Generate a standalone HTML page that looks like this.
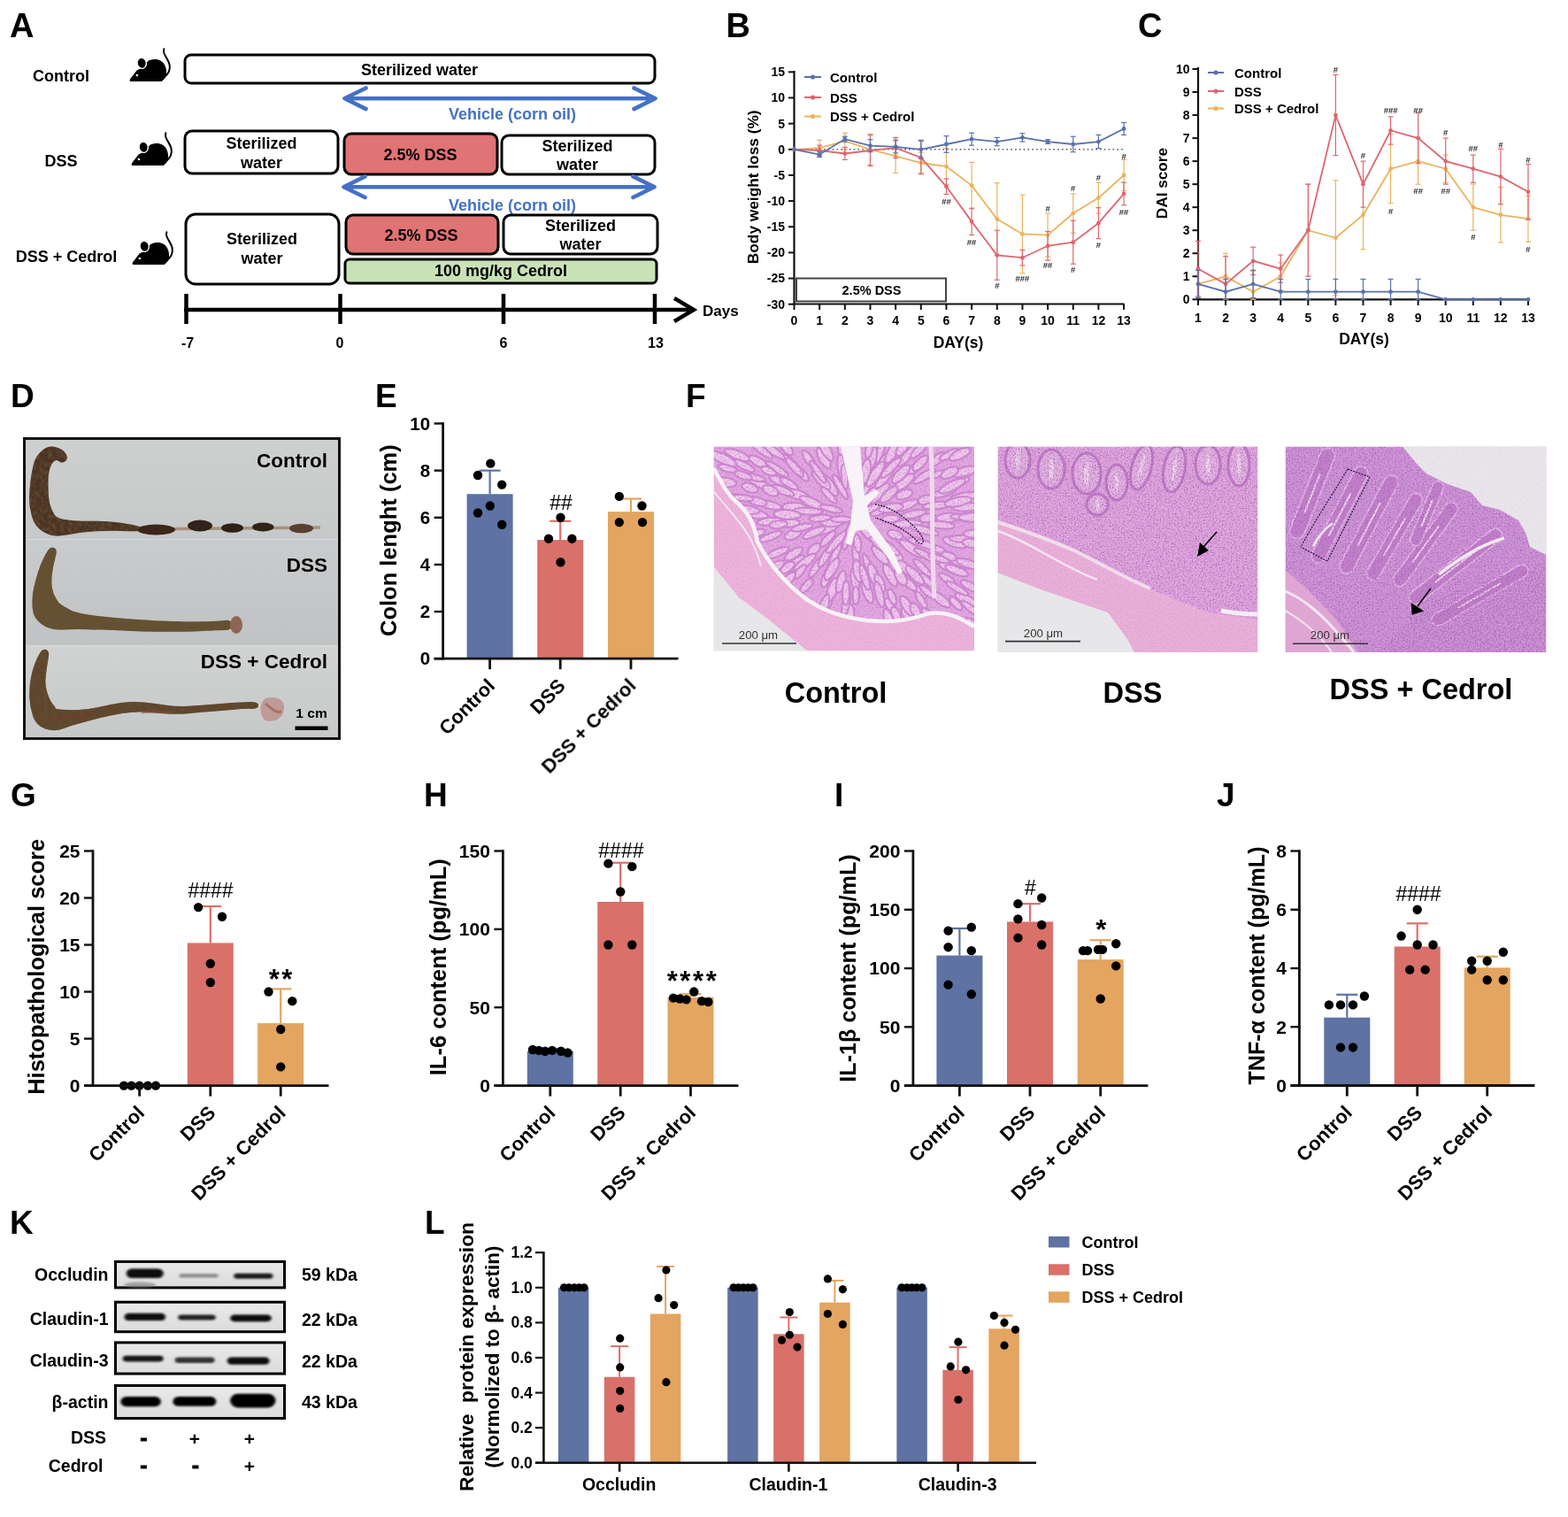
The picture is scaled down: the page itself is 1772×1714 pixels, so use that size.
<!DOCTYPE html>
<html><head><meta charset="utf-8"><title>Figure</title>
<style>
html,body{margin:0;padding:0;background:#fff;width:1772px;height:1714px;overflow:hidden}
svg{display:block}
svg text{font-family:"Liberation Sans",Arial,Helvetica,sans-serif;font-weight:bold}
</style></head><body>
<svg width="1772" height="1714" viewBox="0 0 1772 1714">
<rect x="0" y="0" width="1772" height="1714" fill="#fff"/>
<text x="11" y="42" font-size="38" text-anchor="start">A</text>
<text x="69" y="92" font-size="18" text-anchor="middle">Control</text>
<text x="69" y="188" font-size="18" text-anchor="middle">DSS</text>
<text x="75" y="296" font-size="18" text-anchor="middle">DSS + Cedrol</text>
<g transform="translate(146 55) scale(1)">
<path d="M40.5,31.5 C44.5,28 46.5,23 45.6,18 C44.8,13.5 41,9.5 39.4,5 C38.9,3.2 39,1.5 39.3,0.3" fill="none" stroke="#000" stroke-width="2" stroke-linecap="round"/>
<path d="M1,37 C0.2,35.8 0.8,34 2.4,32.4 L8.6,24.6 L14.5,21.5 L21.5,13.8 C27,11 35.5,11 39.6,17.5 C42.6,22.5 43,29.5 40.2,33.8 L36.8,37 Z" fill="#000"/>
<ellipse cx="14.2" cy="16.3" rx="5.1" ry="6.1" transform="rotate(-12 14.2 16.3)" fill="#000" stroke="#fff" stroke-width="1.3"/>
<circle cx="8.9" cy="30" r="1.35" fill="#fff"/>
</g>
<g transform="translate(148 150) scale(1)">
<path d="M40.5,31.5 C44.5,28 46.5,23 45.6,18 C44.8,13.5 41,9.5 39.4,5 C38.9,3.2 39,1.5 39.3,0.3" fill="none" stroke="#000" stroke-width="2" stroke-linecap="round"/>
<path d="M1,37 C0.2,35.8 0.8,34 2.4,32.4 L8.6,24.6 L14.5,21.5 L21.5,13.8 C27,11 35.5,11 39.6,17.5 C42.6,22.5 43,29.5 40.2,33.8 L36.8,37 Z" fill="#000"/>
<ellipse cx="14.2" cy="16.3" rx="5.1" ry="6.1" transform="rotate(-12 14.2 16.3)" fill="#000" stroke="#fff" stroke-width="1.3"/>
<circle cx="8.9" cy="30" r="1.35" fill="#fff"/>
</g>
<g transform="translate(149 262) scale(1)">
<path d="M40.5,31.5 C44.5,28 46.5,23 45.6,18 C44.8,13.5 41,9.5 39.4,5 C38.9,3.2 39,1.5 39.3,0.3" fill="none" stroke="#000" stroke-width="2" stroke-linecap="round"/>
<path d="M1,37 C0.2,35.8 0.8,34 2.4,32.4 L8.6,24.6 L14.5,21.5 L21.5,13.8 C27,11 35.5,11 39.6,17.5 C42.6,22.5 43,29.5 40.2,33.8 L36.8,37 Z" fill="#000"/>
<ellipse cx="14.2" cy="16.3" rx="5.1" ry="6.1" transform="rotate(-12 14.2 16.3)" fill="#000" stroke="#fff" stroke-width="1.3"/>
<circle cx="8.9" cy="30" r="1.35" fill="#fff"/>
</g>
<rect x="209" y="62" width="531" height="32" rx="7" fill="#fff" stroke="#000" stroke-width="3"/>
<text x="474" y="84.5" font-size="18" text-anchor="middle">Sterilized water</text>
<path d="M390.5,111.3 L739.5,111.3 M413.5,99.5 L389.5,111.3 L413.5,123.1 M716.5,99.5 L740.5,111.3 L716.5,123.1" fill="none" stroke="#4470C6" stroke-width="4.6" stroke-linecap="round" stroke-linejoin="round"/>
<text x="579" y="135" font-size="18" text-anchor="middle" fill="#4472C4">Vehicle (corn oil)</text>
<rect x="209" y="148" width="173" height="48" rx="8" fill="#fff" stroke="#000" stroke-width="3"/>
<text x="295.5" y="168" font-size="18" text-anchor="middle">Sterilized</text>
<text x="295.5" y="190" font-size="18" text-anchor="middle">water</text>
<rect x="389" y="151" width="173" height="46" rx="8" fill="#E07374" stroke="#000" stroke-width="3"/>
<text x="475" y="180.5" font-size="18" text-anchor="middle">2.5% DSS</text>
<rect x="567" y="153" width="173" height="44" rx="8" fill="#fff" stroke="#000" stroke-width="3"/>
<text x="652.5" y="170.5" font-size="18" text-anchor="middle">Sterilized</text>
<text x="652.5" y="192" font-size="18" text-anchor="middle">water</text>
<path d="M389.5,211.2 L738.5,211.2 M412.5,199.4 L388.5,211.2 L412.5,223 M715.5,199.4 L739.5,211.2 L715.5,223" fill="none" stroke="#4470C6" stroke-width="4.6" stroke-linecap="round" stroke-linejoin="round"/>
<text x="579" y="237.5" font-size="18" text-anchor="middle" fill="#4472C4">Vehicle (corn oil)</text>
<rect x="210" y="242" width="173" height="79" rx="11" fill="#fff" stroke="#000" stroke-width="3"/>
<text x="296" y="276" font-size="18" text-anchor="middle">Sterilized</text>
<text x="296" y="298" font-size="18" text-anchor="middle">water</text>
<rect x="391" y="243" width="172" height="44" rx="8" fill="#E07374" stroke="#000" stroke-width="3"/>
<text x="476" y="272" font-size="18" text-anchor="middle">2.5% DSS</text>
<rect x="569" y="243" width="174" height="44" rx="8" fill="#fff" stroke="#000" stroke-width="3"/>
<text x="656" y="260.5" font-size="18" text-anchor="middle">Sterilized</text>
<text x="656" y="282" font-size="18" text-anchor="middle">water</text>
<rect x="390" y="293" width="352" height="27" rx="5" fill="#C8E2B6" stroke="#000" stroke-width="3"/>
<text x="566" y="312" font-size="18" text-anchor="middle">100 mg/kg Cedrol</text>
<line x1="208" y1="350" x2="784" y2="350" stroke="#000" stroke-width="4.5"/>
<line x1="210.5" y1="332" x2="210.5" y2="366" stroke="#000" stroke-width="4.5"/>
<line x1="384.5" y1="332" x2="384.5" y2="366" stroke="#000" stroke-width="4.5"/>
<line x1="569" y1="332" x2="569" y2="366" stroke="#000" stroke-width="4.5"/>
<line x1="740" y1="332" x2="740" y2="366" stroke="#000" stroke-width="4.5"/>
<path d="M762,337 L784,350 L762,363" fill="none" stroke="#000" stroke-width="4.5" stroke-linejoin="miter"/>
<text x="794" y="357" font-size="17" text-anchor="start">Days</text>
<text x="212" y="393" font-size="16" text-anchor="middle">-7</text>
<text x="384" y="393" font-size="16" text-anchor="middle">0</text>
<text x="569" y="393" font-size="16" text-anchor="middle">6</text>
<text x="741" y="393" font-size="16" text-anchor="middle">13</text>
<text x="820.5" y="42" font-size="38" text-anchor="start">B</text>
<line x1="897.5" y1="80" x2="897.5" y2="344" stroke="#111" stroke-width="2.2"/>
<line x1="896.5" y1="343.5" x2="1270.5" y2="343.5" stroke="#111" stroke-width="2.2"/>
<line x1="891" y1="81.35" x2="897.5" y2="81.35" stroke="#111" stroke-width="2"/>
<text x="887" y="86.25" font-size="14" text-anchor="end">15</text>
<line x1="891" y1="110.5" x2="897.5" y2="110.5" stroke="#111" stroke-width="2"/>
<text x="887" y="115.4" font-size="14" text-anchor="end">10</text>
<line x1="891" y1="139.65" x2="897.5" y2="139.65" stroke="#111" stroke-width="2"/>
<text x="887" y="144.55" font-size="14" text-anchor="end">5</text>
<line x1="891" y1="168.8" x2="897.5" y2="168.8" stroke="#111" stroke-width="2"/>
<text x="887" y="173.7" font-size="14" text-anchor="end">0</text>
<line x1="891" y1="197.95" x2="897.5" y2="197.95" stroke="#111" stroke-width="2"/>
<text x="887" y="202.85" font-size="14" text-anchor="end">-5</text>
<line x1="891" y1="227.1" x2="897.5" y2="227.1" stroke="#111" stroke-width="2"/>
<text x="887" y="232" font-size="14" text-anchor="end">-10</text>
<line x1="891" y1="256.25" x2="897.5" y2="256.25" stroke="#111" stroke-width="2"/>
<text x="887" y="261.15" font-size="14" text-anchor="end">-15</text>
<line x1="891" y1="285.4" x2="897.5" y2="285.4" stroke="#111" stroke-width="2"/>
<text x="887" y="290.3" font-size="14" text-anchor="end">-20</text>
<line x1="891" y1="314.55" x2="897.5" y2="314.55" stroke="#111" stroke-width="2"/>
<text x="887" y="319.45" font-size="14" text-anchor="end">-25</text>
<line x1="891" y1="343.7" x2="897.5" y2="343.7" stroke="#111" stroke-width="2"/>
<text x="887" y="348.6" font-size="14" text-anchor="end">-30</text>
<line x1="897.5" y1="343.5" x2="897.5" y2="350" stroke="#111" stroke-width="2"/>
<text x="897.5" y="367.3" font-size="14" text-anchor="middle">0</text>
<line x1="926.16" y1="343.5" x2="926.16" y2="350" stroke="#111" stroke-width="2"/>
<text x="926.16" y="367.3" font-size="14" text-anchor="middle">1</text>
<line x1="954.82" y1="343.5" x2="954.82" y2="350" stroke="#111" stroke-width="2"/>
<text x="954.82" y="367.3" font-size="14" text-anchor="middle">2</text>
<line x1="983.48" y1="343.5" x2="983.48" y2="350" stroke="#111" stroke-width="2"/>
<text x="983.48" y="367.3" font-size="14" text-anchor="middle">3</text>
<line x1="1012.14" y1="343.5" x2="1012.14" y2="350" stroke="#111" stroke-width="2"/>
<text x="1012.14" y="367.3" font-size="14" text-anchor="middle">4</text>
<line x1="1040.8" y1="343.5" x2="1040.8" y2="350" stroke="#111" stroke-width="2"/>
<text x="1040.8" y="367.3" font-size="14" text-anchor="middle">5</text>
<line x1="1069.46" y1="343.5" x2="1069.46" y2="350" stroke="#111" stroke-width="2"/>
<text x="1069.46" y="367.3" font-size="14" text-anchor="middle">6</text>
<line x1="1098.12" y1="343.5" x2="1098.12" y2="350" stroke="#111" stroke-width="2"/>
<text x="1098.12" y="367.3" font-size="14" text-anchor="middle">7</text>
<line x1="1126.78" y1="343.5" x2="1126.78" y2="350" stroke="#111" stroke-width="2"/>
<text x="1126.78" y="367.3" font-size="14" text-anchor="middle">8</text>
<line x1="1155.44" y1="343.5" x2="1155.44" y2="350" stroke="#111" stroke-width="2"/>
<text x="1155.44" y="367.3" font-size="14" text-anchor="middle">9</text>
<line x1="1184.1" y1="343.5" x2="1184.1" y2="350" stroke="#111" stroke-width="2"/>
<text x="1184.1" y="367.3" font-size="14" text-anchor="middle">10</text>
<line x1="1212.76" y1="343.5" x2="1212.76" y2="350" stroke="#111" stroke-width="2"/>
<text x="1212.76" y="367.3" font-size="14" text-anchor="middle">11</text>
<line x1="1241.42" y1="343.5" x2="1241.42" y2="350" stroke="#111" stroke-width="2"/>
<text x="1241.42" y="367.3" font-size="14" text-anchor="middle">12</text>
<line x1="1270.08" y1="343.5" x2="1270.08" y2="350" stroke="#111" stroke-width="2"/>
<text x="1270.08" y="367.3" font-size="14" text-anchor="middle">13</text>
<text x="1083" y="393" font-size="17.5" text-anchor="middle">DAY(s)</text>
<text x="857" y="211.3" font-size="17.3" text-anchor="middle" transform="rotate(-90 857 211.3)">Body weight loss (%)</text>
<line x1="897.5" y1="168.8" x2="1270" y2="168.8" stroke="#555" stroke-width="1.6" stroke-dasharray="1.6 3.2"/>
<rect x="900" y="314.5" width="169" height="26" fill="#fff" stroke="#444" stroke-width="2"/>
<text x="985" y="333.3" font-size="14.5" text-anchor="middle">2.5% DSS</text>
<polyline points="897.5,168.8 926.2,167.1 954.8,159.5 983.5,168.8 1012.1,176.4 1040.8,184.0 1069.5,188.0 1098.1,209.6 1126.8,247.5 1155.4,264.4 1184.1,265.6 1212.8,241.1 1241.4,223.6 1270.1,198.0" fill="none" stroke="#EAB35E" stroke-width="1.8"/>
<circle cx="897.5" cy="168.8" r="2.4" fill="#EAB35E"/>
<line x1="926.16" y1="158.306" x2="926.16" y2="175.796" stroke="#EAB35E" stroke-width="1.2"/>
<line x1="923.16" y1="158.306" x2="929.16" y2="158.306" stroke="#EAB35E" stroke-width="1.2"/>
<line x1="923.16" y1="175.796" x2="929.16" y2="175.796" stroke="#EAB35E" stroke-width="1.2"/>
<circle cx="926.16" cy="167.051" r="2.4" fill="#EAB35E"/>
<line x1="954.82" y1="150.144" x2="954.82" y2="168.8" stroke="#EAB35E" stroke-width="1.2"/>
<line x1="951.82" y1="150.144" x2="957.82" y2="150.144" stroke="#EAB35E" stroke-width="1.2"/>
<line x1="951.82" y1="168.8" x2="957.82" y2="168.8" stroke="#EAB35E" stroke-width="1.2"/>
<circle cx="954.82" cy="159.472" r="2.4" fill="#EAB35E"/>
<line x1="983.48" y1="151.31" x2="983.48" y2="186.29" stroke="#EAB35E" stroke-width="1.2"/>
<line x1="980.48" y1="151.31" x2="986.48" y2="151.31" stroke="#EAB35E" stroke-width="1.2"/>
<line x1="980.48" y1="186.29" x2="986.48" y2="186.29" stroke="#EAB35E" stroke-width="1.2"/>
<circle cx="983.48" cy="168.8" r="2.4" fill="#EAB35E"/>
<line x1="1012.14" y1="157.14" x2="1012.14" y2="195.618" stroke="#EAB35E" stroke-width="1.2"/>
<line x1="1009.14" y1="157.14" x2="1015.14" y2="157.14" stroke="#EAB35E" stroke-width="1.2"/>
<line x1="1009.14" y1="195.618" x2="1015.14" y2="195.618" stroke="#EAB35E" stroke-width="1.2"/>
<circle cx="1012.14" cy="176.379" r="2.4" fill="#EAB35E"/>
<line x1="1040.8" y1="172.298" x2="1040.8" y2="195.618" stroke="#EAB35E" stroke-width="1.2"/>
<line x1="1037.8" y1="172.298" x2="1043.8" y2="172.298" stroke="#EAB35E" stroke-width="1.2"/>
<line x1="1037.8" y1="195.618" x2="1043.8" y2="195.618" stroke="#EAB35E" stroke-width="1.2"/>
<circle cx="1040.8" cy="183.958" r="2.4" fill="#EAB35E"/>
<line x1="1069.46" y1="167.634" x2="1069.46" y2="208.444" stroke="#EAB35E" stroke-width="1.2"/>
<line x1="1066.46" y1="167.634" x2="1072.46" y2="167.634" stroke="#EAB35E" stroke-width="1.2"/>
<line x1="1066.46" y1="208.444" x2="1072.46" y2="208.444" stroke="#EAB35E" stroke-width="1.2"/>
<circle cx="1069.46" cy="188.039" r="2.4" fill="#EAB35E"/>
<line x1="1098.12" y1="183.375" x2="1098.12" y2="235.845" stroke="#EAB35E" stroke-width="1.2"/>
<line x1="1095.12" y1="183.375" x2="1101.12" y2="183.375" stroke="#EAB35E" stroke-width="1.2"/>
<line x1="1095.12" y1="235.845" x2="1101.12" y2="235.845" stroke="#EAB35E" stroke-width="1.2"/>
<circle cx="1098.12" cy="209.61" r="2.4" fill="#EAB35E"/>
<line x1="1126.78" y1="206.695" x2="1126.78" y2="288.315" stroke="#EAB35E" stroke-width="1.2"/>
<line x1="1123.78" y1="206.695" x2="1129.78" y2="206.695" stroke="#EAB35E" stroke-width="1.2"/>
<line x1="1123.78" y1="288.315" x2="1129.78" y2="288.315" stroke="#EAB35E" stroke-width="1.2"/>
<circle cx="1126.78" cy="247.505" r="2.4" fill="#EAB35E"/>
<line x1="1155.44" y1="220.104" x2="1155.44" y2="308.72" stroke="#EAB35E" stroke-width="1.2"/>
<line x1="1152.44" y1="220.104" x2="1158.44" y2="220.104" stroke="#EAB35E" stroke-width="1.2"/>
<line x1="1152.44" y1="308.72" x2="1158.44" y2="308.72" stroke="#EAB35E" stroke-width="1.2"/>
<circle cx="1155.44" cy="264.412" r="2.4" fill="#EAB35E"/>
<line x1="1184.1" y1="241.092" x2="1184.1" y2="290.064" stroke="#EAB35E" stroke-width="1.2"/>
<line x1="1181.1" y1="241.092" x2="1187.1" y2="241.092" stroke="#EAB35E" stroke-width="1.2"/>
<line x1="1181.1" y1="290.064" x2="1187.1" y2="290.064" stroke="#EAB35E" stroke-width="1.2"/>
<circle cx="1184.1" cy="265.578" r="2.4" fill="#EAB35E"/>
<line x1="1212.76" y1="218.938" x2="1212.76" y2="263.246" stroke="#EAB35E" stroke-width="1.2"/>
<line x1="1209.76" y1="218.938" x2="1215.76" y2="218.938" stroke="#EAB35E" stroke-width="1.2"/>
<line x1="1209.76" y1="263.246" x2="1215.76" y2="263.246" stroke="#EAB35E" stroke-width="1.2"/>
<circle cx="1212.76" cy="241.092" r="2.4" fill="#EAB35E"/>
<line x1="1241.42" y1="206.112" x2="1241.42" y2="241.092" stroke="#EAB35E" stroke-width="1.2"/>
<line x1="1238.42" y1="206.112" x2="1244.42" y2="206.112" stroke="#EAB35E" stroke-width="1.2"/>
<line x1="1238.42" y1="241.092" x2="1244.42" y2="241.092" stroke="#EAB35E" stroke-width="1.2"/>
<circle cx="1241.42" cy="223.602" r="2.4" fill="#EAB35E"/>
<line x1="1270.08" y1="180.46" x2="1270.08" y2="215.44" stroke="#EAB35E" stroke-width="1.2"/>
<line x1="1267.08" y1="180.46" x2="1273.08" y2="180.46" stroke="#EAB35E" stroke-width="1.2"/>
<line x1="1267.08" y1="215.44" x2="1273.08" y2="215.44" stroke="#EAB35E" stroke-width="1.2"/>
<circle cx="1270.08" cy="197.95" r="2.4" fill="#EAB35E"/>
<polyline points="897.5,168.8 926.2,170.0 954.8,173.5 983.5,170.0 1012.1,167.1 1040.8,178.1 1069.5,210.8 1098.1,250.4 1126.8,288.3 1155.4,291.2 1184.1,277.8 1212.8,273.7 1241.4,252.2 1270.1,218.9" fill="none" stroke="#DE6670" stroke-width="1.8"/>
<circle cx="897.5" cy="168.8" r="2.4" fill="#DE6670"/>
<line x1="926.16" y1="164.136" x2="926.16" y2="175.796" stroke="#DE6670" stroke-width="1.2"/>
<line x1="923.16" y1="164.136" x2="929.16" y2="164.136" stroke="#DE6670" stroke-width="1.2"/>
<line x1="923.16" y1="175.796" x2="929.16" y2="175.796" stroke="#DE6670" stroke-width="1.2"/>
<circle cx="926.16" cy="169.966" r="2.4" fill="#DE6670"/>
<line x1="954.82" y1="166.468" x2="954.82" y2="180.46" stroke="#DE6670" stroke-width="1.2"/>
<line x1="951.82" y1="166.468" x2="957.82" y2="166.468" stroke="#DE6670" stroke-width="1.2"/>
<line x1="951.82" y1="180.46" x2="957.82" y2="180.46" stroke="#DE6670" stroke-width="1.2"/>
<circle cx="954.82" cy="173.464" r="2.4" fill="#DE6670"/>
<line x1="983.48" y1="152.476" x2="983.48" y2="187.456" stroke="#DE6670" stroke-width="1.2"/>
<line x1="980.48" y1="152.476" x2="986.48" y2="152.476" stroke="#DE6670" stroke-width="1.2"/>
<line x1="980.48" y1="187.456" x2="986.48" y2="187.456" stroke="#DE6670" stroke-width="1.2"/>
<circle cx="983.48" cy="169.966" r="2.4" fill="#DE6670"/>
<line x1="1012.14" y1="155.391" x2="1012.14" y2="178.711" stroke="#DE6670" stroke-width="1.2"/>
<line x1="1009.14" y1="155.391" x2="1015.14" y2="155.391" stroke="#DE6670" stroke-width="1.2"/>
<line x1="1009.14" y1="178.711" x2="1015.14" y2="178.711" stroke="#DE6670" stroke-width="1.2"/>
<circle cx="1012.14" cy="167.051" r="2.4" fill="#DE6670"/>
<line x1="1040.8" y1="159.472" x2="1040.8" y2="196.784" stroke="#DE6670" stroke-width="1.2"/>
<line x1="1037.8" y1="159.472" x2="1043.8" y2="159.472" stroke="#DE6670" stroke-width="1.2"/>
<line x1="1037.8" y1="196.784" x2="1043.8" y2="196.784" stroke="#DE6670" stroke-width="1.2"/>
<circle cx="1040.8" cy="178.128" r="2.4" fill="#DE6670"/>
<line x1="1069.46" y1="202.031" x2="1069.46" y2="219.521" stroke="#DE6670" stroke-width="1.2"/>
<line x1="1066.46" y1="202.031" x2="1072.46" y2="202.031" stroke="#DE6670" stroke-width="1.2"/>
<line x1="1066.46" y1="219.521" x2="1072.46" y2="219.521" stroke="#DE6670" stroke-width="1.2"/>
<circle cx="1069.46" cy="210.776" r="2.4" fill="#DE6670"/>
<line x1="1098.12" y1="235.262" x2="1098.12" y2="265.578" stroke="#DE6670" stroke-width="1.2"/>
<line x1="1095.12" y1="235.262" x2="1101.12" y2="235.262" stroke="#DE6670" stroke-width="1.2"/>
<line x1="1095.12" y1="265.578" x2="1101.12" y2="265.578" stroke="#DE6670" stroke-width="1.2"/>
<circle cx="1098.12" cy="250.42" r="2.4" fill="#DE6670"/>
<line x1="1126.78" y1="260.331" x2="1126.78" y2="316.299" stroke="#DE6670" stroke-width="1.2"/>
<line x1="1123.78" y1="260.331" x2="1129.78" y2="260.331" stroke="#DE6670" stroke-width="1.2"/>
<line x1="1123.78" y1="316.299" x2="1129.78" y2="316.299" stroke="#DE6670" stroke-width="1.2"/>
<circle cx="1126.78" cy="288.315" r="2.4" fill="#DE6670"/>
<line x1="1155.44" y1="282.485" x2="1155.44" y2="299.975" stroke="#DE6670" stroke-width="1.2"/>
<line x1="1152.44" y1="282.485" x2="1158.44" y2="282.485" stroke="#DE6670" stroke-width="1.2"/>
<line x1="1152.44" y1="299.975" x2="1158.44" y2="299.975" stroke="#DE6670" stroke-width="1.2"/>
<circle cx="1155.44" cy="291.23" r="2.4" fill="#DE6670"/>
<line x1="1184.1" y1="261.497" x2="1184.1" y2="294.145" stroke="#DE6670" stroke-width="1.2"/>
<line x1="1181.1" y1="261.497" x2="1187.1" y2="261.497" stroke="#DE6670" stroke-width="1.2"/>
<line x1="1181.1" y1="294.145" x2="1187.1" y2="294.145" stroke="#DE6670" stroke-width="1.2"/>
<circle cx="1184.1" cy="277.821" r="2.4" fill="#DE6670"/>
<line x1="1212.76" y1="249.254" x2="1212.76" y2="298.226" stroke="#DE6670" stroke-width="1.2"/>
<line x1="1209.76" y1="249.254" x2="1215.76" y2="249.254" stroke="#DE6670" stroke-width="1.2"/>
<line x1="1209.76" y1="298.226" x2="1215.76" y2="298.226" stroke="#DE6670" stroke-width="1.2"/>
<circle cx="1212.76" cy="273.74" r="2.4" fill="#DE6670"/>
<line x1="1241.42" y1="234.679" x2="1241.42" y2="269.659" stroke="#DE6670" stroke-width="1.2"/>
<line x1="1238.42" y1="234.679" x2="1244.42" y2="234.679" stroke="#DE6670" stroke-width="1.2"/>
<line x1="1238.42" y1="269.659" x2="1244.42" y2="269.659" stroke="#DE6670" stroke-width="1.2"/>
<circle cx="1241.42" cy="252.169" r="2.4" fill="#DE6670"/>
<line x1="1270.08" y1="206.112" x2="1270.08" y2="231.764" stroke="#DE6670" stroke-width="1.2"/>
<line x1="1267.08" y1="206.112" x2="1273.08" y2="206.112" stroke="#DE6670" stroke-width="1.2"/>
<line x1="1267.08" y1="231.764" x2="1273.08" y2="231.764" stroke="#DE6670" stroke-width="1.2"/>
<circle cx="1270.08" cy="218.938" r="2.4" fill="#DE6670"/>
<polyline points="897.5,168.8 926.2,174.6 954.8,157.1 983.5,164.7 1012.1,165.9 1040.8,168.8 1069.5,163.0 1098.1,157.1 1126.8,160.1 1155.4,155.4 1184.1,160.1 1212.8,163.0 1241.4,160.1 1270.1,145.5" fill="none" stroke="#5A71AA" stroke-width="1.8"/>
<circle cx="897.5" cy="168.8" r="2.4" fill="#5A71AA"/>
<line x1="926.16" y1="171.715" x2="926.16" y2="177.545" stroke="#5A71AA" stroke-width="1.2"/>
<line x1="923.16" y1="171.715" x2="929.16" y2="171.715" stroke="#5A71AA" stroke-width="1.2"/>
<line x1="923.16" y1="177.545" x2="929.16" y2="177.545" stroke="#5A71AA" stroke-width="1.2"/>
<circle cx="926.16" cy="174.63" r="2.4" fill="#5A71AA"/>
<line x1="954.82" y1="154.225" x2="954.82" y2="160.055" stroke="#5A71AA" stroke-width="1.2"/>
<line x1="951.82" y1="154.225" x2="957.82" y2="154.225" stroke="#5A71AA" stroke-width="1.2"/>
<line x1="951.82" y1="160.055" x2="957.82" y2="160.055" stroke="#5A71AA" stroke-width="1.2"/>
<circle cx="954.82" cy="157.14" r="2.4" fill="#5A71AA"/>
<line x1="983.48" y1="157.723" x2="983.48" y2="171.715" stroke="#5A71AA" stroke-width="1.2"/>
<line x1="980.48" y1="157.723" x2="986.48" y2="157.723" stroke="#5A71AA" stroke-width="1.2"/>
<line x1="980.48" y1="171.715" x2="986.48" y2="171.715" stroke="#5A71AA" stroke-width="1.2"/>
<circle cx="983.48" cy="164.719" r="2.4" fill="#5A71AA"/>
<line x1="1012.14" y1="158.889" x2="1012.14" y2="172.881" stroke="#5A71AA" stroke-width="1.2"/>
<line x1="1009.14" y1="158.889" x2="1015.14" y2="158.889" stroke="#5A71AA" stroke-width="1.2"/>
<line x1="1009.14" y1="172.881" x2="1015.14" y2="172.881" stroke="#5A71AA" stroke-width="1.2"/>
<circle cx="1012.14" cy="165.885" r="2.4" fill="#5A71AA"/>
<line x1="1040.8" y1="158.306" x2="1040.8" y2="179.294" stroke="#5A71AA" stroke-width="1.2"/>
<line x1="1037.8" y1="158.306" x2="1043.8" y2="158.306" stroke="#5A71AA" stroke-width="1.2"/>
<line x1="1037.8" y1="179.294" x2="1043.8" y2="179.294" stroke="#5A71AA" stroke-width="1.2"/>
<circle cx="1040.8" cy="168.8" r="2.4" fill="#5A71AA"/>
<line x1="1069.46" y1="153.642" x2="1069.46" y2="172.298" stroke="#5A71AA" stroke-width="1.2"/>
<line x1="1066.46" y1="153.642" x2="1072.46" y2="153.642" stroke="#5A71AA" stroke-width="1.2"/>
<line x1="1066.46" y1="172.298" x2="1072.46" y2="172.298" stroke="#5A71AA" stroke-width="1.2"/>
<circle cx="1069.46" cy="162.97" r="2.4" fill="#5A71AA"/>
<line x1="1098.12" y1="150.144" x2="1098.12" y2="164.136" stroke="#5A71AA" stroke-width="1.2"/>
<line x1="1095.12" y1="150.144" x2="1101.12" y2="150.144" stroke="#5A71AA" stroke-width="1.2"/>
<line x1="1095.12" y1="164.136" x2="1101.12" y2="164.136" stroke="#5A71AA" stroke-width="1.2"/>
<circle cx="1098.12" cy="157.14" r="2.4" fill="#5A71AA"/>
<line x1="1126.78" y1="155.391" x2="1126.78" y2="164.719" stroke="#5A71AA" stroke-width="1.2"/>
<line x1="1123.78" y1="155.391" x2="1129.78" y2="155.391" stroke="#5A71AA" stroke-width="1.2"/>
<line x1="1123.78" y1="164.719" x2="1129.78" y2="164.719" stroke="#5A71AA" stroke-width="1.2"/>
<circle cx="1126.78" cy="160.055" r="2.4" fill="#5A71AA"/>
<line x1="1155.44" y1="150.727" x2="1155.44" y2="160.055" stroke="#5A71AA" stroke-width="1.2"/>
<line x1="1152.44" y1="150.727" x2="1158.44" y2="150.727" stroke="#5A71AA" stroke-width="1.2"/>
<line x1="1152.44" y1="160.055" x2="1158.44" y2="160.055" stroke="#5A71AA" stroke-width="1.2"/>
<circle cx="1155.44" cy="155.391" r="2.4" fill="#5A71AA"/>
<line x1="1184.1" y1="157.723" x2="1184.1" y2="162.387" stroke="#5A71AA" stroke-width="1.2"/>
<line x1="1181.1" y1="157.723" x2="1187.1" y2="157.723" stroke="#5A71AA" stroke-width="1.2"/>
<line x1="1181.1" y1="162.387" x2="1187.1" y2="162.387" stroke="#5A71AA" stroke-width="1.2"/>
<circle cx="1184.1" cy="160.055" r="2.4" fill="#5A71AA"/>
<line x1="1212.76" y1="154.225" x2="1212.76" y2="171.715" stroke="#5A71AA" stroke-width="1.2"/>
<line x1="1209.76" y1="154.225" x2="1215.76" y2="154.225" stroke="#5A71AA" stroke-width="1.2"/>
<line x1="1209.76" y1="171.715" x2="1215.76" y2="171.715" stroke="#5A71AA" stroke-width="1.2"/>
<circle cx="1212.76" cy="162.97" r="2.4" fill="#5A71AA"/>
<line x1="1241.42" y1="152.476" x2="1241.42" y2="167.634" stroke="#5A71AA" stroke-width="1.2"/>
<line x1="1238.42" y1="152.476" x2="1244.42" y2="152.476" stroke="#5A71AA" stroke-width="1.2"/>
<line x1="1238.42" y1="167.634" x2="1244.42" y2="167.634" stroke="#5A71AA" stroke-width="1.2"/>
<circle cx="1241.42" cy="160.055" r="2.4" fill="#5A71AA"/>
<line x1="1270.08" y1="138.484" x2="1270.08" y2="152.476" stroke="#5A71AA" stroke-width="1.2"/>
<line x1="1267.08" y1="138.484" x2="1273.08" y2="138.484" stroke="#5A71AA" stroke-width="1.2"/>
<line x1="1267.08" y1="152.476" x2="1273.08" y2="152.476" stroke="#5A71AA" stroke-width="1.2"/>
<circle cx="1270.08" cy="145.48" r="2.4" fill="#5A71AA"/>
<line x1="909" y1="87" x2="928" y2="87" stroke="#5A71AA" stroke-width="2"/>
<circle cx="918.5" cy="87" r="2.6" fill="#5A71AA"/>
<text x="938" y="92.5" font-size="15" text-anchor="start">Control</text>
<line x1="909" y1="110" x2="928" y2="110" stroke="#DE6670" stroke-width="2"/>
<circle cx="918.5" cy="110" r="2.6" fill="#DE6670"/>
<text x="938" y="115.5" font-size="15" text-anchor="start">DSS</text>
<line x1="909" y1="131.5" x2="928" y2="131.5" stroke="#EAB35E" stroke-width="2"/>
<circle cx="918.5" cy="131.5" r="2.6" fill="#EAB35E"/>
<text x="938" y="137" font-size="15" text-anchor="start">DSS + Cedrol</text>
<text x="1069.46" y="231" font-size="9.5" text-anchor="middle" fill="#222">##</text>
<text x="1098.12" y="277" font-size="9.5" text-anchor="middle" fill="#222">##</text>
<text x="1126.78" y="326" font-size="9.5" text-anchor="middle" fill="#222">#</text>
<text x="1155.44" y="318" font-size="9.5" text-anchor="middle" fill="#222">###</text>
<text x="1184.1" y="303" font-size="9.5" text-anchor="middle" fill="#222">##</text>
<text x="1212.76" y="308" font-size="9.5" text-anchor="middle" fill="#222">#</text>
<text x="1241.42" y="280" font-size="9.5" text-anchor="middle" fill="#222">#</text>
<text x="1270.08" y="243" font-size="9.5" text-anchor="middle" fill="#222">##</text>
<text x="1184.1" y="239" font-size="9.5" text-anchor="middle" fill="#222">#</text>
<text x="1212.76" y="216" font-size="9.5" text-anchor="middle" fill="#222">#</text>
<text x="1241.42" y="204" font-size="9.5" text-anchor="middle" fill="#222">#</text>
<text x="1270.08" y="179.5" font-size="9.5" text-anchor="middle" fill="#222">#</text>
<text x="1286" y="42" font-size="38" text-anchor="start">C</text>
<line x1="1354" y1="76" x2="1354" y2="339.5" stroke="#111" stroke-width="2.2"/>
<line x1="1353" y1="338.3" x2="1728" y2="338.3" stroke="#111" stroke-width="2.2"/>
<line x1="1347.5" y1="338.3" x2="1354" y2="338.3" stroke="#111" stroke-width="2"/>
<text x="1344.5" y="343.2" font-size="14" text-anchor="end">0</text>
<line x1="1347.5" y1="312.27" x2="1354" y2="312.27" stroke="#111" stroke-width="2"/>
<text x="1344.5" y="317.17" font-size="14" text-anchor="end">1</text>
<line x1="1347.5" y1="286.24" x2="1354" y2="286.24" stroke="#111" stroke-width="2"/>
<text x="1344.5" y="291.14" font-size="14" text-anchor="end">2</text>
<line x1="1347.5" y1="260.21" x2="1354" y2="260.21" stroke="#111" stroke-width="2"/>
<text x="1344.5" y="265.11" font-size="14" text-anchor="end">3</text>
<line x1="1347.5" y1="234.18" x2="1354" y2="234.18" stroke="#111" stroke-width="2"/>
<text x="1344.5" y="239.08" font-size="14" text-anchor="end">4</text>
<line x1="1347.5" y1="208.15" x2="1354" y2="208.15" stroke="#111" stroke-width="2"/>
<text x="1344.5" y="213.05" font-size="14" text-anchor="end">5</text>
<line x1="1347.5" y1="182.12" x2="1354" y2="182.12" stroke="#111" stroke-width="2"/>
<text x="1344.5" y="187.02" font-size="14" text-anchor="end">6</text>
<line x1="1347.5" y1="156.09" x2="1354" y2="156.09" stroke="#111" stroke-width="2"/>
<text x="1344.5" y="160.99" font-size="14" text-anchor="end">7</text>
<line x1="1347.5" y1="130.06" x2="1354" y2="130.06" stroke="#111" stroke-width="2"/>
<text x="1344.5" y="134.96" font-size="14" text-anchor="end">8</text>
<line x1="1347.5" y1="104.03" x2="1354" y2="104.03" stroke="#111" stroke-width="2"/>
<text x="1344.5" y="108.93" font-size="14" text-anchor="end">9</text>
<line x1="1347.5" y1="78" x2="1354" y2="78" stroke="#111" stroke-width="2"/>
<text x="1344.5" y="82.9" font-size="14" text-anchor="end">10</text>
<line x1="1354" y1="338.3" x2="1354" y2="345" stroke="#111" stroke-width="2"/>
<text x="1354" y="364" font-size="14" text-anchor="middle">1</text>
<line x1="1385.08" y1="338.3" x2="1385.08" y2="345" stroke="#111" stroke-width="2"/>
<text x="1385.08" y="364" font-size="14" text-anchor="middle">2</text>
<line x1="1416.16" y1="338.3" x2="1416.16" y2="345" stroke="#111" stroke-width="2"/>
<text x="1416.16" y="364" font-size="14" text-anchor="middle">3</text>
<line x1="1447.24" y1="338.3" x2="1447.24" y2="345" stroke="#111" stroke-width="2"/>
<text x="1447.24" y="364" font-size="14" text-anchor="middle">4</text>
<line x1="1478.32" y1="338.3" x2="1478.32" y2="345" stroke="#111" stroke-width="2"/>
<text x="1478.32" y="364" font-size="14" text-anchor="middle">5</text>
<line x1="1509.4" y1="338.3" x2="1509.4" y2="345" stroke="#111" stroke-width="2"/>
<text x="1509.4" y="364" font-size="14" text-anchor="middle">6</text>
<line x1="1540.48" y1="338.3" x2="1540.48" y2="345" stroke="#111" stroke-width="2"/>
<text x="1540.48" y="364" font-size="14" text-anchor="middle">7</text>
<line x1="1571.56" y1="338.3" x2="1571.56" y2="345" stroke="#111" stroke-width="2"/>
<text x="1571.56" y="364" font-size="14" text-anchor="middle">8</text>
<line x1="1602.64" y1="338.3" x2="1602.64" y2="345" stroke="#111" stroke-width="2"/>
<text x="1602.64" y="364" font-size="14" text-anchor="middle">9</text>
<line x1="1633.72" y1="338.3" x2="1633.72" y2="345" stroke="#111" stroke-width="2"/>
<text x="1633.72" y="364" font-size="14" text-anchor="middle">10</text>
<line x1="1664.8" y1="338.3" x2="1664.8" y2="345" stroke="#111" stroke-width="2"/>
<text x="1664.8" y="364" font-size="14" text-anchor="middle">11</text>
<line x1="1695.88" y1="338.3" x2="1695.88" y2="345" stroke="#111" stroke-width="2"/>
<text x="1695.88" y="364" font-size="14" text-anchor="middle">12</text>
<line x1="1726.96" y1="338.3" x2="1726.96" y2="345" stroke="#111" stroke-width="2"/>
<text x="1726.96" y="364" font-size="14" text-anchor="middle">13</text>
<text x="1541.5" y="389" font-size="17.5" text-anchor="middle">DAY(s)</text>
<text x="1319" y="207" font-size="17.2" text-anchor="middle" transform="rotate(-90 1319 207)">DAI score</text>
<polyline points="1354.0,320.9 1385.1,312.3 1416.2,329.7 1447.2,312.3 1478.3,260.2 1509.4,268.8 1540.5,242.8 1571.6,190.7 1602.6,182.1 1633.7,190.7 1664.8,234.2 1695.9,242.8 1727.0,247.2" fill="none" stroke="#EAB35E" stroke-width="1.8"/>
<line x1="1354" y1="305.242" x2="1354" y2="336.478" stroke="#EAB35E" stroke-width="1.2"/>
<line x1="1351" y1="305.242" x2="1357" y2="305.242" stroke="#EAB35E" stroke-width="1.2"/>
<line x1="1351" y1="336.478" x2="1357" y2="336.478" stroke="#EAB35E" stroke-width="1.2"/>
<circle cx="1354" cy="320.86" r="2.4" fill="#EAB35E"/>
<line x1="1385.08" y1="286.24" x2="1385.08" y2="338.3" stroke="#EAB35E" stroke-width="1.2"/>
<line x1="1382.08" y1="286.24" x2="1388.08" y2="286.24" stroke="#EAB35E" stroke-width="1.2"/>
<line x1="1382.08" y1="338.3" x2="1388.08" y2="338.3" stroke="#EAB35E" stroke-width="1.2"/>
<circle cx="1385.08" cy="312.27" r="2.4" fill="#EAB35E"/>
<line x1="1416.16" y1="306.283" x2="1416.16" y2="338.3" stroke="#EAB35E" stroke-width="1.2"/>
<line x1="1413.16" y1="306.283" x2="1419.16" y2="306.283" stroke="#EAB35E" stroke-width="1.2"/>
<line x1="1413.16" y1="338.3" x2="1419.16" y2="338.3" stroke="#EAB35E" stroke-width="1.2"/>
<circle cx="1416.16" cy="329.71" r="2.4" fill="#EAB35E"/>
<line x1="1447.24" y1="296.652" x2="1447.24" y2="327.888" stroke="#EAB35E" stroke-width="1.2"/>
<line x1="1444.24" y1="296.652" x2="1450.24" y2="296.652" stroke="#EAB35E" stroke-width="1.2"/>
<line x1="1444.24" y1="327.888" x2="1450.24" y2="327.888" stroke="#EAB35E" stroke-width="1.2"/>
<circle cx="1447.24" cy="312.27" r="2.4" fill="#EAB35E"/>
<line x1="1478.32" y1="208.15" x2="1478.32" y2="312.27" stroke="#EAB35E" stroke-width="1.2"/>
<line x1="1475.32" y1="208.15" x2="1481.32" y2="208.15" stroke="#EAB35E" stroke-width="1.2"/>
<line x1="1475.32" y1="312.27" x2="1481.32" y2="312.27" stroke="#EAB35E" stroke-width="1.2"/>
<circle cx="1478.32" cy="260.21" r="2.4" fill="#EAB35E"/>
<line x1="1509.4" y1="203.725" x2="1509.4" y2="333.875" stroke="#EAB35E" stroke-width="1.2"/>
<line x1="1506.4" y1="203.725" x2="1512.4" y2="203.725" stroke="#EAB35E" stroke-width="1.2"/>
<line x1="1506.4" y1="333.875" x2="1512.4" y2="333.875" stroke="#EAB35E" stroke-width="1.2"/>
<circle cx="1509.4" cy="268.8" r="2.4" fill="#EAB35E"/>
<line x1="1540.48" y1="203.725" x2="1540.48" y2="281.815" stroke="#EAB35E" stroke-width="1.2"/>
<line x1="1537.48" y1="203.725" x2="1543.48" y2="203.725" stroke="#EAB35E" stroke-width="1.2"/>
<line x1="1537.48" y1="281.815" x2="1543.48" y2="281.815" stroke="#EAB35E" stroke-width="1.2"/>
<circle cx="1540.48" cy="242.77" r="2.4" fill="#EAB35E"/>
<line x1="1571.56" y1="151.665" x2="1571.56" y2="229.755" stroke="#EAB35E" stroke-width="1.2"/>
<line x1="1568.56" y1="151.665" x2="1574.56" y2="151.665" stroke="#EAB35E" stroke-width="1.2"/>
<line x1="1568.56" y1="229.755" x2="1574.56" y2="229.755" stroke="#EAB35E" stroke-width="1.2"/>
<circle cx="1571.56" cy="190.71" r="2.4" fill="#EAB35E"/>
<line x1="1602.64" y1="156.09" x2="1602.64" y2="208.15" stroke="#EAB35E" stroke-width="1.2"/>
<line x1="1599.64" y1="156.09" x2="1605.64" y2="156.09" stroke="#EAB35E" stroke-width="1.2"/>
<line x1="1599.64" y1="208.15" x2="1605.64" y2="208.15" stroke="#EAB35E" stroke-width="1.2"/>
<circle cx="1602.64" cy="182.12" r="2.4" fill="#EAB35E"/>
<line x1="1633.72" y1="175.092" x2="1633.72" y2="206.328" stroke="#EAB35E" stroke-width="1.2"/>
<line x1="1630.72" y1="175.092" x2="1636.72" y2="175.092" stroke="#EAB35E" stroke-width="1.2"/>
<line x1="1630.72" y1="206.328" x2="1636.72" y2="206.328" stroke="#EAB35E" stroke-width="1.2"/>
<circle cx="1633.72" cy="190.71" r="2.4" fill="#EAB35E"/>
<line x1="1664.8" y1="208.15" x2="1664.8" y2="260.21" stroke="#EAB35E" stroke-width="1.2"/>
<line x1="1661.8" y1="208.15" x2="1667.8" y2="208.15" stroke="#EAB35E" stroke-width="1.2"/>
<line x1="1661.8" y1="260.21" x2="1667.8" y2="260.21" stroke="#EAB35E" stroke-width="1.2"/>
<circle cx="1664.8" cy="234.18" r="2.4" fill="#EAB35E"/>
<line x1="1695.88" y1="211.534" x2="1695.88" y2="274.006" stroke="#EAB35E" stroke-width="1.2"/>
<line x1="1692.88" y1="211.534" x2="1698.88" y2="211.534" stroke="#EAB35E" stroke-width="1.2"/>
<line x1="1692.88" y1="274.006" x2="1698.88" y2="274.006" stroke="#EAB35E" stroke-width="1.2"/>
<circle cx="1695.88" cy="242.77" r="2.4" fill="#EAB35E"/>
<line x1="1726.96" y1="221.165" x2="1726.96" y2="273.225" stroke="#EAB35E" stroke-width="1.2"/>
<line x1="1723.96" y1="221.165" x2="1729.96" y2="221.165" stroke="#EAB35E" stroke-width="1.2"/>
<line x1="1723.96" y1="273.225" x2="1729.96" y2="273.225" stroke="#EAB35E" stroke-width="1.2"/>
<circle cx="1726.96" cy="247.195" r="2.4" fill="#EAB35E"/>
<polyline points="1354.0,303.7 1385.1,320.9 1416.2,294.8 1447.2,303.7 1478.3,260.2 1509.4,130.1 1540.5,208.2 1571.6,147.5 1602.6,156.1 1633.7,182.1 1664.8,190.7 1695.9,199.6 1727.0,216.7" fill="none" stroke="#DE6670" stroke-width="1.8"/>
<line x1="1354" y1="272.444" x2="1354" y2="334.916" stroke="#DE6670" stroke-width="1.2"/>
<line x1="1351" y1="272.444" x2="1357" y2="272.444" stroke="#DE6670" stroke-width="1.2"/>
<line x1="1351" y1="334.916" x2="1357" y2="334.916" stroke="#DE6670" stroke-width="1.2"/>
<circle cx="1354" cy="303.68" r="2.4" fill="#DE6670"/>
<line x1="1385.08" y1="289.624" x2="1385.08" y2="338.3" stroke="#DE6670" stroke-width="1.2"/>
<line x1="1382.08" y1="289.624" x2="1388.08" y2="289.624" stroke="#DE6670" stroke-width="1.2"/>
<line x1="1382.08" y1="338.3" x2="1388.08" y2="338.3" stroke="#DE6670" stroke-width="1.2"/>
<circle cx="1385.08" cy="320.86" r="2.4" fill="#DE6670"/>
<line x1="1416.16" y1="279.212" x2="1416.16" y2="310.448" stroke="#DE6670" stroke-width="1.2"/>
<line x1="1413.16" y1="279.212" x2="1419.16" y2="279.212" stroke="#DE6670" stroke-width="1.2"/>
<line x1="1413.16" y1="310.448" x2="1419.16" y2="310.448" stroke="#DE6670" stroke-width="1.2"/>
<circle cx="1416.16" cy="294.83" r="2.4" fill="#DE6670"/>
<line x1="1447.24" y1="288.062" x2="1447.24" y2="319.298" stroke="#DE6670" stroke-width="1.2"/>
<line x1="1444.24" y1="288.062" x2="1450.24" y2="288.062" stroke="#DE6670" stroke-width="1.2"/>
<line x1="1444.24" y1="319.298" x2="1450.24" y2="319.298" stroke="#DE6670" stroke-width="1.2"/>
<circle cx="1447.24" cy="303.68" r="2.4" fill="#DE6670"/>
<line x1="1478.32" y1="208.15" x2="1478.32" y2="312.27" stroke="#DE6670" stroke-width="1.2"/>
<line x1="1475.32" y1="208.15" x2="1481.32" y2="208.15" stroke="#DE6670" stroke-width="1.2"/>
<line x1="1475.32" y1="312.27" x2="1481.32" y2="312.27" stroke="#DE6670" stroke-width="1.2"/>
<circle cx="1478.32" cy="260.21" r="2.4" fill="#DE6670"/>
<line x1="1509.4" y1="84.5075" x2="1509.4" y2="175.613" stroke="#DE6670" stroke-width="1.2"/>
<line x1="1506.4" y1="84.5075" x2="1512.4" y2="84.5075" stroke="#DE6670" stroke-width="1.2"/>
<line x1="1506.4" y1="175.613" x2="1512.4" y2="175.613" stroke="#DE6670" stroke-width="1.2"/>
<circle cx="1509.4" cy="130.06" r="2.4" fill="#DE6670"/>
<line x1="1540.48" y1="182.12" x2="1540.48" y2="234.18" stroke="#DE6670" stroke-width="1.2"/>
<line x1="1537.48" y1="182.12" x2="1543.48" y2="182.12" stroke="#DE6670" stroke-width="1.2"/>
<line x1="1537.48" y1="234.18" x2="1543.48" y2="234.18" stroke="#DE6670" stroke-width="1.2"/>
<circle cx="1540.48" cy="208.15" r="2.4" fill="#DE6670"/>
<line x1="1571.56" y1="131.882" x2="1571.56" y2="163.118" stroke="#DE6670" stroke-width="1.2"/>
<line x1="1568.56" y1="131.882" x2="1574.56" y2="131.882" stroke="#DE6670" stroke-width="1.2"/>
<line x1="1568.56" y1="163.118" x2="1574.56" y2="163.118" stroke="#DE6670" stroke-width="1.2"/>
<circle cx="1571.56" cy="147.5" r="2.4" fill="#DE6670"/>
<line x1="1602.64" y1="127.457" x2="1602.64" y2="184.723" stroke="#DE6670" stroke-width="1.2"/>
<line x1="1599.64" y1="127.457" x2="1605.64" y2="127.457" stroke="#DE6670" stroke-width="1.2"/>
<line x1="1599.64" y1="184.723" x2="1605.64" y2="184.723" stroke="#DE6670" stroke-width="1.2"/>
<circle cx="1602.64" cy="156.09" r="2.4" fill="#DE6670"/>
<line x1="1633.72" y1="156.09" x2="1633.72" y2="208.15" stroke="#DE6670" stroke-width="1.2"/>
<line x1="1630.72" y1="156.09" x2="1636.72" y2="156.09" stroke="#DE6670" stroke-width="1.2"/>
<line x1="1630.72" y1="208.15" x2="1636.72" y2="208.15" stroke="#DE6670" stroke-width="1.2"/>
<circle cx="1633.72" cy="182.12" r="2.4" fill="#DE6670"/>
<line x1="1664.8" y1="175.092" x2="1664.8" y2="206.328" stroke="#DE6670" stroke-width="1.2"/>
<line x1="1661.8" y1="175.092" x2="1667.8" y2="175.092" stroke="#DE6670" stroke-width="1.2"/>
<line x1="1661.8" y1="206.328" x2="1667.8" y2="206.328" stroke="#DE6670" stroke-width="1.2"/>
<circle cx="1664.8" cy="190.71" r="2.4" fill="#DE6670"/>
<line x1="1695.88" y1="168.324" x2="1695.88" y2="230.796" stroke="#DE6670" stroke-width="1.2"/>
<line x1="1692.88" y1="168.324" x2="1698.88" y2="168.324" stroke="#DE6670" stroke-width="1.2"/>
<line x1="1692.88" y1="230.796" x2="1698.88" y2="230.796" stroke="#DE6670" stroke-width="1.2"/>
<circle cx="1695.88" cy="199.56" r="2.4" fill="#DE6670"/>
<line x1="1726.96" y1="185.504" x2="1726.96" y2="247.976" stroke="#DE6670" stroke-width="1.2"/>
<line x1="1723.96" y1="185.504" x2="1729.96" y2="185.504" stroke="#DE6670" stroke-width="1.2"/>
<line x1="1723.96" y1="247.976" x2="1729.96" y2="247.976" stroke="#DE6670" stroke-width="1.2"/>
<circle cx="1726.96" cy="216.74" r="2.4" fill="#DE6670"/>
<polyline points="1354.0,320.9 1385.1,329.7 1416.2,320.9 1447.2,329.7 1478.3,329.7 1509.4,329.7 1540.5,329.7 1571.6,329.7 1602.6,329.7 1633.7,338.3 1664.8,338.3 1695.9,338.3 1727.0,338.3" fill="none" stroke="#5A71AA" stroke-width="1.8"/>
<line x1="1354" y1="305.242" x2="1354" y2="336.478" stroke="#5A71AA" stroke-width="1.2"/>
<line x1="1351" y1="305.242" x2="1357" y2="305.242" stroke="#5A71AA" stroke-width="1.2"/>
<line x1="1351" y1="336.478" x2="1357" y2="336.478" stroke="#5A71AA" stroke-width="1.2"/>
<circle cx="1354" cy="320.86" r="2.4" fill="#5A71AA"/>
<line x1="1385.08" y1="315.394" x2="1385.08" y2="338.3" stroke="#5A71AA" stroke-width="1.2"/>
<line x1="1382.08" y1="315.394" x2="1388.08" y2="315.394" stroke="#5A71AA" stroke-width="1.2"/>
<line x1="1382.08" y1="338.3" x2="1388.08" y2="338.3" stroke="#5A71AA" stroke-width="1.2"/>
<circle cx="1385.08" cy="329.71" r="2.4" fill="#5A71AA"/>
<line x1="1416.16" y1="305.242" x2="1416.16" y2="336.478" stroke="#5A71AA" stroke-width="1.2"/>
<line x1="1413.16" y1="305.242" x2="1419.16" y2="305.242" stroke="#5A71AA" stroke-width="1.2"/>
<line x1="1413.16" y1="336.478" x2="1419.16" y2="336.478" stroke="#5A71AA" stroke-width="1.2"/>
<circle cx="1416.16" cy="320.86" r="2.4" fill="#5A71AA"/>
<line x1="1447.24" y1="315.394" x2="1447.24" y2="338.3" stroke="#5A71AA" stroke-width="1.2"/>
<line x1="1444.24" y1="315.394" x2="1450.24" y2="315.394" stroke="#5A71AA" stroke-width="1.2"/>
<line x1="1444.24" y1="338.3" x2="1450.24" y2="338.3" stroke="#5A71AA" stroke-width="1.2"/>
<circle cx="1447.24" cy="329.71" r="2.4" fill="#5A71AA"/>
<line x1="1478.32" y1="315.394" x2="1478.32" y2="338.3" stroke="#5A71AA" stroke-width="1.2"/>
<line x1="1475.32" y1="315.394" x2="1481.32" y2="315.394" stroke="#5A71AA" stroke-width="1.2"/>
<line x1="1475.32" y1="338.3" x2="1481.32" y2="338.3" stroke="#5A71AA" stroke-width="1.2"/>
<circle cx="1478.32" cy="329.71" r="2.4" fill="#5A71AA"/>
<line x1="1509.4" y1="315.394" x2="1509.4" y2="338.3" stroke="#5A71AA" stroke-width="1.2"/>
<line x1="1506.4" y1="315.394" x2="1512.4" y2="315.394" stroke="#5A71AA" stroke-width="1.2"/>
<line x1="1506.4" y1="338.3" x2="1512.4" y2="338.3" stroke="#5A71AA" stroke-width="1.2"/>
<circle cx="1509.4" cy="329.71" r="2.4" fill="#5A71AA"/>
<line x1="1540.48" y1="315.394" x2="1540.48" y2="338.3" stroke="#5A71AA" stroke-width="1.2"/>
<line x1="1537.48" y1="315.394" x2="1543.48" y2="315.394" stroke="#5A71AA" stroke-width="1.2"/>
<line x1="1537.48" y1="338.3" x2="1543.48" y2="338.3" stroke="#5A71AA" stroke-width="1.2"/>
<circle cx="1540.48" cy="329.71" r="2.4" fill="#5A71AA"/>
<line x1="1571.56" y1="315.394" x2="1571.56" y2="338.3" stroke="#5A71AA" stroke-width="1.2"/>
<line x1="1568.56" y1="315.394" x2="1574.56" y2="315.394" stroke="#5A71AA" stroke-width="1.2"/>
<line x1="1568.56" y1="338.3" x2="1574.56" y2="338.3" stroke="#5A71AA" stroke-width="1.2"/>
<circle cx="1571.56" cy="329.71" r="2.4" fill="#5A71AA"/>
<line x1="1602.64" y1="315.394" x2="1602.64" y2="338.3" stroke="#5A71AA" stroke-width="1.2"/>
<line x1="1599.64" y1="315.394" x2="1605.64" y2="315.394" stroke="#5A71AA" stroke-width="1.2"/>
<line x1="1599.64" y1="338.3" x2="1605.64" y2="338.3" stroke="#5A71AA" stroke-width="1.2"/>
<circle cx="1602.64" cy="329.71" r="2.4" fill="#5A71AA"/>
<circle cx="1633.72" cy="338.3" r="2.4" fill="#5A71AA"/>
<circle cx="1664.8" cy="338.3" r="2.4" fill="#5A71AA"/>
<circle cx="1695.88" cy="338.3" r="2.4" fill="#5A71AA"/>
<circle cx="1726.96" cy="338.3" r="2.4" fill="#5A71AA"/>
<line x1="1365" y1="82" x2="1383" y2="82" stroke="#5A71AA" stroke-width="2"/>
<circle cx="1374" cy="82" r="2.6" fill="#5A71AA"/>
<text x="1395" y="87.5" font-size="15" text-anchor="start">Control</text>
<line x1="1365" y1="103" x2="1383" y2="103" stroke="#DE6670" stroke-width="2"/>
<circle cx="1374" cy="103" r="2.6" fill="#DE6670"/>
<text x="1395" y="108.5" font-size="15" text-anchor="start">DSS</text>
<line x1="1365" y1="122.5" x2="1383" y2="122.5" stroke="#EAB35E" stroke-width="2"/>
<circle cx="1374" cy="122.5" r="2.6" fill="#EAB35E"/>
<text x="1395" y="128" font-size="15" text-anchor="start">DSS + Cedrol</text>
<text x="1509.4" y="82" font-size="9.5" text-anchor="middle" fill="#222">#</text>
<text x="1540.48" y="179" font-size="9.5" text-anchor="middle" fill="#222">#</text>
<text x="1571.56" y="128" font-size="9.5" text-anchor="middle" fill="#222">###</text>
<text x="1602.64" y="128" font-size="9.5" text-anchor="middle" fill="#222">##</text>
<text x="1633.72" y="153" font-size="9.5" text-anchor="middle" fill="#222">#</text>
<text x="1664.8" y="171" font-size="9.5" text-anchor="middle" fill="#222">##</text>
<text x="1695.88" y="167" font-size="9.5" text-anchor="middle" fill="#222">#</text>
<text x="1726.96" y="184" font-size="9.5" text-anchor="middle" fill="#222">#</text>
<text x="1571.56" y="242" font-size="9.5" text-anchor="middle" fill="#222">#</text>
<text x="1602.64" y="218.5" font-size="9.5" text-anchor="middle" fill="#222">##</text>
<text x="1633.72" y="218.5" font-size="9.5" text-anchor="middle" fill="#222">##</text>
<text x="1664.8" y="271" font-size="9.5" text-anchor="middle" fill="#222">#</text>
<text x="1726.96" y="285" font-size="9.5" text-anchor="middle" fill="#222">#</text>
<text x="12" y="460" font-size="37" text-anchor="start">D</text>
<defs><filter id="fD" x="0" y="0" width="100%" height="100%"><feTurbulence type="fractalNoise" baseFrequency="0.22" numOctaves="3" seed="3"/>
<feColorMatrix type="matrix" values="0 0 0 0 0.12  0 0 0 0 0.08  0 0 0 0 0.04  1.7 0 0 0 -0.55"/><feComposite in2="SourceGraphic" operator="in"/></filter>
<filter id="fDl" x="0" y="0" width="100%" height="100%"><feTurbulence type="fractalNoise" baseFrequency="0.3" numOctaves="2" seed="8"/>
<feColorMatrix type="matrix" values="0 0 0 0 0.75  0 0 0 0 0.55  0 0 0 0 0.45  1.6 0 0 0 -0.75"/><feComposite in2="SourceGraphic" operator="in"/></filter>
<filter id="sb"><feGaussianBlur stdDeviation="0.6"/></filter>
<linearGradient id="gD1" x1="0" x2="0" y1="0" y2="1"><stop offset="0" stop-color="#CED0D0"/><stop offset="1" stop-color="#C6C8C9"/></linearGradient>
<linearGradient id="gD2" x1="0" x2="0" y1="0" y2="1"><stop offset="0" stop-color="#C9CBCC"/><stop offset="1" stop-color="#C0C2C3"/></linearGradient>
<linearGradient id="gD3" x1="0" x2="0" y1="0" y2="1"><stop offset="0" stop-color="#D1D3D3"/><stop offset="1" stop-color="#C7C9C9"/></linearGradient>
</defs>
<rect x="27.5" y="495.5" width="356" height="114" fill="url(#gD1)"/>
<rect x="27.5" y="609.5" width="356" height="120" fill="url(#gD2)"/>
<rect x="27.5" y="729.5" width="356" height="105" fill="url(#gD3)"/>
<g filter="url(#sb)">
<path d="M74.5,512.8 Q71.4,507.4 63.2,505.2 Q54.9,503.0 47.6,509.0 Q40.3,515.1 38.0,524.3 Q35.6,533.5 34.6,542.6 Q33.5,551.7 33.1,561.8 Q32.7,571.9 36.0,583.6 Q39.3,595.4 49.1,601.0 Q59.0,606.6 68.6,605.3 Q78.2,604.0 86.8,602.5 Q95.3,601.0 107.6,600.2 Q119.9,599.5 132.2,599.7 Q144.6,600.0 152.1,600.2 Q159.7,600.5 160.0,598.0 Q160.3,595.5 152.9,593.8 Q145.4,592.0 132.8,590.3 Q120.1,588.5 107.4,588.8 Q94.7,589.0 86.2,588.5 Q77.8,588.0 71.4,586.7 Q65.0,585.4 62.9,583.0 Q60.7,580.6 58.0,574.4 Q55.3,568.1 54.9,560.2 Q54.5,552.3 54.4,544.4 Q54.4,536.5 56.0,530.7 Q57.7,524.9 59.4,523.0 Q61.1,521.0 62.8,520.3 Q64.6,519.6 67.5,521.7 Q70.5,523.8 74.0,521.0 Q77.5,518.2 74.5,512.8 Z" fill="#4A3020"/>
<path d="M74.5,512.8 Q71.4,507.4 63.2,505.2 Q54.9,503.0 47.6,509.0 Q40.3,515.1 38.0,524.3 Q35.6,533.5 34.6,542.6 Q33.5,551.7 33.1,561.8 Q32.7,571.9 36.0,583.6 Q39.3,595.4 49.1,601.0 Q59.0,606.6 68.6,605.3 Q78.2,604.0 86.8,602.5 Q95.3,601.0 107.6,600.2 Q119.9,599.5 132.2,599.7 Q144.6,600.0 152.1,600.2 Q159.7,600.5 160.0,598.0 Q160.3,595.5 152.9,593.8 Q145.4,592.0 132.8,590.3 Q120.1,588.5 107.4,588.8 Q94.7,589.0 86.2,588.5 Q77.8,588.0 71.4,586.7 Q65.0,585.4 62.9,583.0 Q60.7,580.6 58.0,574.4 Q55.3,568.1 54.9,560.2 Q54.5,552.3 54.4,544.4 Q54.4,536.5 56.0,530.7 Q57.7,524.9 59.4,523.0 Q61.1,521.0 62.8,520.3 Q64.6,519.6 67.5,521.7 Q70.5,523.8 74.0,521.0 Q77.5,518.2 74.5,512.8 Z" fill="#000" filter="url(#fD)"/>
<path d="M155,598 L362,596" stroke="#A89078" stroke-width="3.5" fill="none"/>
<ellipse cx="176.5" cy="598.5" rx="21.5" ry="6" fill="#3C281A"/>
<ellipse cx="226" cy="594" rx="14" ry="6.5" fill="#33231A"/>
<ellipse cx="262.5" cy="596.5" rx="12.5" ry="5.25" fill="#2E2018"/>
<ellipse cx="297.25" cy="595.5" rx="12.25" ry="5" fill="#302219"/>
<ellipse cx="340.5" cy="597" rx="13.5" ry="5.25" fill="#5A4030"/>
<path d="M54.4,621.6 Q51.4,625.8 48.1,632.9 Q44.8,640.0 42.4,647.9 Q40.1,655.8 38.1,664.4 Q36.0,673.1 36.6,685.7 Q37.2,698.3 46.7,705.1 Q56.1,711.9 67.3,711.4 Q78.4,710.9 88.9,710.9 Q99.4,711.0 114.4,711.5 Q129.5,712.0 144.6,712.7 Q159.7,713.5 174.8,713.7 Q189.9,714.0 205.0,713.7 Q220.1,713.5 232.7,712.7 Q245.2,712.0 253.8,712.0 Q262.4,712.0 262.0,706.0 Q261.6,700.0 253.2,701.0 Q244.8,702.0 232.3,702.3 Q219.9,702.5 205.0,702.3 Q190.1,702.0 175.2,701.3 Q160.3,700.5 145.4,699.3 Q130.5,698.0 115.6,696.5 Q100.6,695.0 91.1,693.1 Q81.6,691.1 74.7,686.6 Q67.9,682.1 67.3,681.9 Q66.8,681.7 63.4,676.3 Q60.0,670.9 58.9,664.6 Q57.9,658.2 58.6,651.1 Q59.2,644.0 60.9,637.1 Q62.6,630.2 63.6,625.4 Q64.7,620.6 61.0,619.0 Q57.3,617.4 54.4,621.6 Z" fill="#66512F"/>
<path d="M54.4,621.6 Q51.4,625.8 48.1,632.9 Q44.8,640.0 42.4,647.9 Q40.1,655.8 38.1,664.4 Q36.0,673.1 36.6,685.7 Q37.2,698.3 46.7,705.1 Q56.1,711.9 67.3,711.4 Q78.4,710.9 88.9,710.9 Q99.4,711.0 114.4,711.5 Q129.5,712.0 144.6,712.7 Q159.7,713.5 174.8,713.7 Q189.9,714.0 205.0,713.7 Q220.1,713.5 232.7,712.7 Q245.2,712.0 253.8,712.0 Q262.4,712.0 262.0,706.0 Q261.6,700.0 253.2,701.0 Q244.8,702.0 232.3,702.3 Q219.9,702.5 205.0,702.3 Q190.1,702.0 175.2,701.3 Q160.3,700.5 145.4,699.3 Q130.5,698.0 115.6,696.5 Q100.6,695.0 91.1,693.1 Q81.6,691.1 74.7,686.6 Q67.9,682.1 67.3,681.9 Q66.8,681.7 63.4,676.3 Q60.0,670.9 58.9,664.6 Q57.9,658.2 58.6,651.1 Q59.2,644.0 60.9,637.1 Q62.6,630.2 63.6,625.4 Q64.7,620.6 61.0,619.0 Q57.3,617.4 54.4,621.6 Z" fill="#000" filter="url(#fD)"/>
<ellipse cx="267" cy="706" rx="7" ry="10" fill="#8E6656"/>
<path d="M45.0,737.9 Q41.8,743.1 39.0,750.8 Q36.1,758.5 34.6,767.4 Q33.0,776.3 33.2,787.3 Q33.5,798.4 37.2,809.2 Q40.8,820.0 51.2,823.5 Q61.5,827.0 71.4,823.2 Q81.3,819.4 91.3,816.9 Q101.3,814.4 113.7,811.1 Q126.2,807.9 138.2,805.9 Q150.2,804.0 162.4,804.5 Q174.5,805.0 187.2,806.2 Q199.9,807.5 212.6,806.2 Q225.3,805.0 237.8,804.0 Q250.3,803.0 262.7,801.9 Q275.2,800.7 283.6,800.9 Q292.0,801.0 292.0,797.0 Q292.0,793.0 283.4,793.1 Q274.8,793.3 262.3,794.1 Q249.7,795.0 237.2,796.0 Q224.7,797.0 212.4,797.8 Q200.1,798.5 187.8,796.8 Q175.5,795.0 162.6,793.5 Q149.8,792.0 136.8,794.1 Q123.8,796.1 111.3,798.9 Q98.7,801.6 88.7,802.1 Q78.7,802.6 70.6,801.8 Q62.5,801.0 62.8,800.5 Q63.2,800.0 59.8,795.8 Q56.5,791.6 53.8,783.7 Q51.0,775.7 51.4,768.6 Q51.9,761.5 53.0,754.2 Q54.2,746.9 55.0,741.1 Q55.8,735.4 52.0,734.0 Q48.2,732.6 45.0,737.9 Z" fill="#5E4429"/>
<path d="M45.0,737.9 Q41.8,743.1 39.0,750.8 Q36.1,758.5 34.6,767.4 Q33.0,776.3 33.2,787.3 Q33.5,798.4 37.2,809.2 Q40.8,820.0 51.2,823.5 Q61.5,827.0 71.4,823.2 Q81.3,819.4 91.3,816.9 Q101.3,814.4 113.7,811.1 Q126.2,807.9 138.2,805.9 Q150.2,804.0 162.4,804.5 Q174.5,805.0 187.2,806.2 Q199.9,807.5 212.6,806.2 Q225.3,805.0 237.8,804.0 Q250.3,803.0 262.7,801.9 Q275.2,800.7 283.6,800.9 Q292.0,801.0 292.0,797.0 Q292.0,793.0 283.4,793.1 Q274.8,793.3 262.3,794.1 Q249.7,795.0 237.2,796.0 Q224.7,797.0 212.4,797.8 Q200.1,798.5 187.8,796.8 Q175.5,795.0 162.6,793.5 Q149.8,792.0 136.8,794.1 Q123.8,796.1 111.3,798.9 Q98.7,801.6 88.7,802.1 Q78.7,802.6 70.6,801.8 Q62.5,801.0 62.8,800.5 Q63.2,800.0 59.8,795.8 Q56.5,791.6 53.8,783.7 Q51.0,775.7 51.4,768.6 Q51.9,761.5 53.0,754.2 Q54.2,746.9 55.0,741.1 Q55.8,735.4 52.0,734.0 Q48.2,732.6 45.0,737.9 Z" fill="#000" filter="url(#fD)"/>
<path d="M300,789 C312,786 322,790 321,800 C320,812 310,817 300,814 C294,810 292,795 300,789 Z" fill="#BF9A97"/>
<path d="M58,812 C80,810 95,808 105,806" stroke="#7A3B2A" stroke-width="3" fill="none" opacity="0.6"/>
<path d="M160,805 C175,803 185,806 195,805 M300,795 C306,800 312,806 318,804" stroke="#8A4A3A" stroke-width="3" fill="none" opacity="0.5"/>
</g>
<rect x="27.5" y="495.5" width="356" height="339" fill="none" stroke="#111" stroke-width="3"/>
<text x="370" y="527.5" font-size="22.5" text-anchor="end">Control</text>
<text x="370" y="646" font-size="22.5" text-anchor="end">DSS</text>
<text x="370" y="754.5" font-size="22.5" text-anchor="end">DSS + Cedrol</text>
<text x="352" y="811" font-size="15.5" text-anchor="middle">1 cm</text>
<rect x="333.5" y="820.5" width="37" height="4.5" fill="#000"/>
<text x="424" y="460" font-size="37" text-anchor="start">E</text>
<rect x="527.6" y="558.21" width="52" height="185.99" fill="#5E72A3"/>
<line x1="553.6" y1="558.21" x2="553.6" y2="531.64" stroke="#5E72A3" stroke-width="2.2"/>
<line x1="541.6" y1="531.64" x2="565.6" y2="531.64" stroke="#5E72A3" stroke-width="2.2"/>
<rect x="607.2" y="610.022" width="52" height="134.178" fill="#D9706A"/>
<line x1="633.2" y1="610.022" x2="633.2" y2="588.765" stroke="#D9706A" stroke-width="2.2"/>
<line x1="621.2" y1="588.765" x2="645.2" y2="588.765" stroke="#D9706A" stroke-width="2.2"/>
<rect x="687" y="578.138" width="52" height="166.062" fill="#E3A55F"/>
<line x1="713" y1="578.138" x2="713" y2="563.524" stroke="#E3A55F" stroke-width="2.2"/>
<line x1="701" y1="563.524" x2="725" y2="563.524" stroke="#E3A55F" stroke-width="2.2"/>
<circle cx="554.3" cy="523.669" r="5.2" fill="#000"/>
<circle cx="540" cy="536.954" r="5.2" fill="#000"/>
<circle cx="567.2" cy="547.582" r="5.2" fill="#000"/>
<circle cx="553.8" cy="571.495" r="5.2" fill="#000"/>
<circle cx="540" cy="579.466" r="5.2" fill="#000"/>
<circle cx="567.2" cy="592.751" r="5.2" fill="#000"/>
<circle cx="633.5" cy="584.78" r="5.2" fill="#000"/>
<circle cx="620" cy="608.693" r="5.2" fill="#000"/>
<circle cx="646.4" cy="608.693" r="5.2" fill="#000"/>
<circle cx="633.5" cy="635.263" r="5.2" fill="#000"/>
<circle cx="699.8" cy="560.867" r="5.2" fill="#000"/>
<circle cx="725.5" cy="571.495" r="5.2" fill="#000"/>
<circle cx="699.8" cy="590.094" r="5.2" fill="#000"/>
<circle cx="726" cy="590.094" r="5.2" fill="#000"/>
<line x1="500.6" y1="477.3" x2="500.6" y2="745.6" stroke="#111" stroke-width="2.8"/>
<line x1="490.6" y1="744.2" x2="766.5" y2="744.2" stroke="#111" stroke-width="2.8"/>
<line x1="490.6" y1="744.2" x2="500.6" y2="744.2" stroke="#111" stroke-width="2.4"/>
<text x="486.1" y="751.375" font-size="20.5" text-anchor="end">0</text>
<line x1="490.6" y1="691.06" x2="500.6" y2="691.06" stroke="#111" stroke-width="2.4"/>
<text x="486.1" y="698.235" font-size="20.5" text-anchor="end">2</text>
<line x1="490.6" y1="637.92" x2="500.6" y2="637.92" stroke="#111" stroke-width="2.4"/>
<text x="486.1" y="645.095" font-size="20.5" text-anchor="end">4</text>
<line x1="490.6" y1="584.78" x2="500.6" y2="584.78" stroke="#111" stroke-width="2.4"/>
<text x="486.1" y="591.955" font-size="20.5" text-anchor="end">6</text>
<line x1="490.6" y1="531.64" x2="500.6" y2="531.64" stroke="#111" stroke-width="2.4"/>
<text x="486.1" y="538.815" font-size="20.5" text-anchor="end">8</text>
<line x1="490.6" y1="478.5" x2="500.6" y2="478.5" stroke="#111" stroke-width="2.4"/>
<text x="486.1" y="485.675" font-size="20.5" text-anchor="end">10</text>
<line x1="553.6" y1="744.2" x2="553.6" y2="756.2" stroke="#111" stroke-width="2.8"/>
<line x1="633.2" y1="744.2" x2="633.2" y2="756.2" stroke="#111" stroke-width="2.8"/>
<line x1="713" y1="744.2" x2="713" y2="756.2" stroke="#111" stroke-width="2.8"/>
<text x="560.6" y="776.2" font-size="22" text-anchor="end" transform="rotate(-45 560.6 776.2)">Control</text>
<text x="640.2" y="776.2" font-size="22" text-anchor="end" transform="rotate(-45 640.2 776.2)">DSS</text>
<text x="720" y="776.2" font-size="22" text-anchor="end" transform="rotate(-45 720 776.2)">DSS + Cedrol</text>
<text x="448" y="610.6" font-size="25.5" text-anchor="middle" transform="rotate(-90 448 610.6)">Colon lenght (cm)</text>
<text x="634.1" y="576" font-size="23" text-anchor="middle" style="font-weight:normal">##</text>
<text x="12" y="911" font-size="37" text-anchor="start">G</text>
<rect x="211.8" y="1065.42" width="52" height="161.181" fill="#D9706A"/>
<line x1="237.8" y1="1065.42" x2="237.8" y2="1024.06" stroke="#D9706A" stroke-width="2.2"/>
<line x1="225.8" y1="1024.06" x2="249.8" y2="1024.06" stroke="#D9706A" stroke-width="2.2"/>
<rect x="291.2" y="1156.08" width="52" height="70.5166" fill="#E3A55F"/>
<line x1="317.2" y1="1156.08" x2="317.2" y2="1117.38" stroke="#E3A55F" stroke-width="2.2"/>
<line x1="305.2" y1="1117.38" x2="329.2" y2="1117.38" stroke="#E3A55F" stroke-width="2.2"/>
<circle cx="140" cy="1226.6" r="5.2" fill="#000"/>
<circle cx="148.5" cy="1226.6" r="5.2" fill="#000"/>
<circle cx="157.6" cy="1226.6" r="5.2" fill="#000"/>
<circle cx="167" cy="1226.6" r="5.2" fill="#000"/>
<circle cx="176" cy="1226.6" r="5.2" fill="#000"/>
<circle cx="224.1" cy="1025.12" r="5.2" fill="#000"/>
<circle cx="251" cy="1035.73" r="5.2" fill="#000"/>
<circle cx="237.8" cy="1088.75" r="5.2" fill="#000"/>
<circle cx="237.8" cy="1109.96" r="5.2" fill="#000"/>
<circle cx="303.5" cy="1120.56" r="5.2" fill="#000"/>
<circle cx="330.3" cy="1131.16" r="5.2" fill="#000"/>
<circle cx="317.2" cy="1162.98" r="5.2" fill="#000"/>
<circle cx="317.2" cy="1205.39" r="5.2" fill="#000"/>
<line x1="105" y1="960.3" x2="105" y2="1228" stroke="#111" stroke-width="2.8"/>
<line x1="95" y1="1226.6" x2="371.5" y2="1226.6" stroke="#111" stroke-width="2.8"/>
<line x1="95" y1="1226.6" x2="105" y2="1226.6" stroke="#111" stroke-width="2.4"/>
<text x="90.5" y="1233.95" font-size="21" text-anchor="end">0</text>
<line x1="95" y1="1173.58" x2="105" y2="1173.58" stroke="#111" stroke-width="2.4"/>
<text x="90.5" y="1180.93" font-size="21" text-anchor="end">5</text>
<line x1="95" y1="1120.56" x2="105" y2="1120.56" stroke="#111" stroke-width="2.4"/>
<text x="90.5" y="1127.91" font-size="21" text-anchor="end">10</text>
<line x1="95" y1="1067.54" x2="105" y2="1067.54" stroke="#111" stroke-width="2.4"/>
<text x="90.5" y="1074.89" font-size="21" text-anchor="end">15</text>
<line x1="95" y1="1014.52" x2="105" y2="1014.52" stroke="#111" stroke-width="2.4"/>
<text x="90.5" y="1021.87" font-size="21" text-anchor="end">20</text>
<line x1="95" y1="961.5" x2="105" y2="961.5" stroke="#111" stroke-width="2.4"/>
<text x="90.5" y="968.85" font-size="21" text-anchor="end">25</text>
<line x1="157.6" y1="1226.6" x2="157.6" y2="1238.6" stroke="#111" stroke-width="2.8"/>
<line x1="237.8" y1="1226.6" x2="237.8" y2="1238.6" stroke="#111" stroke-width="2.8"/>
<line x1="317.2" y1="1226.6" x2="317.2" y2="1238.6" stroke="#111" stroke-width="2.8"/>
<text x="164.6" y="1258.6" font-size="22" text-anchor="end" transform="rotate(-45 164.6 1258.6)">Control</text>
<text x="244.8" y="1258.6" font-size="22" text-anchor="end" transform="rotate(-45 244.8 1258.6)">DSS</text>
<text x="324.2" y="1258.6" font-size="22" text-anchor="end" transform="rotate(-45 324.2 1258.6)">DSS + Cedrol</text>
<text x="49.7" y="1092.3" font-size="25.5" text-anchor="middle" transform="rotate(-90 49.7 1092.3)">Histopathological score</text>
<text x="238" y="1013.5" font-size="23" text-anchor="middle" style="font-weight:normal">####</text>
<text x="318.3" y="1117.3" font-size="31" text-anchor="middle" letter-spacing="2.6">**</text>
<text x="479" y="911" font-size="37" text-anchor="start">H</text>
<rect x="595.8" y="1187.72" width="52" height="38.8813" fill="#5E72A3"/>
<line x1="621.8" y1="1187.72" x2="621.8" y2="1185.07" stroke="#5E72A3" stroke-width="2.2"/>
<line x1="609.8" y1="1185.07" x2="633.8" y2="1185.07" stroke="#5E72A3" stroke-width="2.2"/>
<rect x="675.2" y="1018.94" width="52" height="207.662" fill="#D9706A"/>
<line x1="701.2" y1="1018.94" x2="701.2" y2="974.755" stroke="#D9706A" stroke-width="2.2"/>
<line x1="689.2" y1="974.755" x2="713.2" y2="974.755" stroke="#D9706A" stroke-width="2.2"/>
<rect x="754.5" y="1126.75" width="52" height="99.8543" fill="#E3A55F"/>
<line x1="780.5" y1="1126.75" x2="780.5" y2="1123.21" stroke="#E3A55F" stroke-width="2.2"/>
<line x1="768.5" y1="1123.21" x2="792.5" y2="1123.21" stroke="#E3A55F" stroke-width="2.2"/>
<circle cx="602" cy="1185.95" r="5.2" fill="#000"/>
<circle cx="609" cy="1186.84" r="5.2" fill="#000"/>
<circle cx="616" cy="1187.72" r="5.2" fill="#000"/>
<circle cx="624" cy="1186.84" r="5.2" fill="#000"/>
<circle cx="634" cy="1187.72" r="5.2" fill="#000"/>
<circle cx="641.5" cy="1189.49" r="5.2" fill="#000"/>
<circle cx="687.4" cy="975.639" r="5.2" fill="#000"/>
<circle cx="714.3" cy="979.173" r="5.2" fill="#000"/>
<circle cx="701.2" cy="1007.45" r="5.2" fill="#000"/>
<circle cx="687.4" cy="1067.54" r="5.2" fill="#000"/>
<circle cx="714.3" cy="1067.54" r="5.2" fill="#000"/>
<circle cx="761" cy="1127.63" r="5.2" fill="#000"/>
<circle cx="768.3" cy="1128.51" r="5.2" fill="#000"/>
<circle cx="775.6" cy="1129.4" r="5.2" fill="#000"/>
<circle cx="784.3" cy="1120.56" r="5.2" fill="#000"/>
<circle cx="793" cy="1131.16" r="5.2" fill="#000"/>
<circle cx="800.4" cy="1132.05" r="5.2" fill="#000"/>
<line x1="568.4" y1="960.3" x2="568.4" y2="1228" stroke="#111" stroke-width="2.8"/>
<line x1="558.4" y1="1226.6" x2="834.5" y2="1226.6" stroke="#111" stroke-width="2.8"/>
<line x1="558.4" y1="1226.6" x2="568.4" y2="1226.6" stroke="#111" stroke-width="2.4"/>
<text x="553.9" y="1233.95" font-size="21" text-anchor="end">0</text>
<line x1="558.4" y1="1138.23" x2="568.4" y2="1138.23" stroke="#111" stroke-width="2.4"/>
<text x="553.9" y="1145.58" font-size="21" text-anchor="end">50</text>
<line x1="558.4" y1="1049.87" x2="568.4" y2="1049.87" stroke="#111" stroke-width="2.4"/>
<text x="553.9" y="1057.22" font-size="21" text-anchor="end">100</text>
<line x1="558.4" y1="961.5" x2="568.4" y2="961.5" stroke="#111" stroke-width="2.4"/>
<text x="553.9" y="968.85" font-size="21" text-anchor="end">150</text>
<line x1="621.8" y1="1226.6" x2="621.8" y2="1238.6" stroke="#111" stroke-width="2.8"/>
<line x1="701.2" y1="1226.6" x2="701.2" y2="1238.6" stroke="#111" stroke-width="2.8"/>
<line x1="780.5" y1="1226.6" x2="780.5" y2="1238.6" stroke="#111" stroke-width="2.8"/>
<text x="628.8" y="1258.6" font-size="22" text-anchor="end" transform="rotate(-45 628.8 1258.6)">Control</text>
<text x="708.2" y="1258.6" font-size="22" text-anchor="end" transform="rotate(-45 708.2 1258.6)">DSS</text>
<text x="787.5" y="1258.6" font-size="22" text-anchor="end" transform="rotate(-45 787.5 1258.6)">DSS + Cedrol</text>
<text x="504" y="1092.7" font-size="25.5" text-anchor="middle" transform="rotate(-90 504 1092.7)">IL-6 content (pg/mL)</text>
<text x="701.9" y="969" font-size="23" text-anchor="middle" style="font-weight:normal">####</text>
<text x="783" y="1119.1" font-size="31" text-anchor="middle" letter-spacing="2.6">****</text>
<text x="943" y="911" font-size="37" text-anchor="start">I</text>
<rect x="1058.4" y="1079.6" width="52" height="146.998" fill="#5E72A3"/>
<line x1="1084.4" y1="1079.6" x2="1084.4" y2="1048.98" stroke="#5E72A3" stroke-width="2.2"/>
<line x1="1072.4" y1="1048.98" x2="1096.4" y2="1048.98" stroke="#5E72A3" stroke-width="2.2"/>
<rect x="1138" y="1041.43" width="52" height="185.172" fill="#D9706A"/>
<line x1="1164" y1="1041.43" x2="1164" y2="1021.15" stroke="#D9706A" stroke-width="2.2"/>
<line x1="1152" y1="1021.15" x2="1176" y2="1021.15" stroke="#D9706A" stroke-width="2.2"/>
<rect x="1217.7" y="1084.11" width="52" height="142.491" fill="#E3A55F"/>
<line x1="1243.7" y1="1084.11" x2="1243.7" y2="1062.24" stroke="#E3A55F" stroke-width="2.2"/>
<line x1="1231.7" y1="1062.24" x2="1255.7" y2="1062.24" stroke="#E3A55F" stroke-width="2.2"/>
<circle cx="1071.6" cy="1051.63" r="5.2" fill="#000"/>
<circle cx="1097.8" cy="1047.66" r="5.2" fill="#000"/>
<circle cx="1071.6" cy="1070.19" r="5.2" fill="#000"/>
<circle cx="1097.8" cy="1074.17" r="5.2" fill="#000"/>
<circle cx="1071.6" cy="1112.61" r="5.2" fill="#000"/>
<circle cx="1097.8" cy="1123.21" r="5.2" fill="#000"/>
<circle cx="1150.4" cy="1021.15" r="5.2" fill="#000"/>
<circle cx="1177.2" cy="1014.52" r="5.2" fill="#000"/>
<circle cx="1150.4" cy="1038.38" r="5.2" fill="#000"/>
<circle cx="1177.2" cy="1045.01" r="5.2" fill="#000"/>
<circle cx="1150.4" cy="1059.59" r="5.2" fill="#000"/>
<circle cx="1177.2" cy="1067.54" r="5.2" fill="#000"/>
<circle cx="1224" cy="1074.17" r="5.2" fill="#000"/>
<circle cx="1229" cy="1074.17" r="5.2" fill="#000"/>
<circle cx="1241" cy="1072.84" r="5.2" fill="#000"/>
<circle cx="1246" cy="1072.84" r="5.2" fill="#000"/>
<circle cx="1261.2" cy="1066.21" r="5.2" fill="#000"/>
<circle cx="1261.2" cy="1091.4" r="5.2" fill="#000"/>
<circle cx="1243.7" cy="1128.51" r="5.2" fill="#000"/>
<line x1="1031.9" y1="960.3" x2="1031.9" y2="1228" stroke="#111" stroke-width="2.8"/>
<line x1="1021.9" y1="1226.6" x2="1297.4" y2="1226.6" stroke="#111" stroke-width="2.8"/>
<line x1="1021.9" y1="1226.6" x2="1031.9" y2="1226.6" stroke="#111" stroke-width="2.4"/>
<text x="1017.4" y="1233.95" font-size="21" text-anchor="end">0</text>
<line x1="1021.9" y1="1160.32" x2="1031.9" y2="1160.32" stroke="#111" stroke-width="2.4"/>
<text x="1017.4" y="1167.67" font-size="21" text-anchor="end">50</text>
<line x1="1021.9" y1="1094.05" x2="1031.9" y2="1094.05" stroke="#111" stroke-width="2.4"/>
<text x="1017.4" y="1101.4" font-size="21" text-anchor="end">100</text>
<line x1="1021.9" y1="1027.78" x2="1031.9" y2="1027.78" stroke="#111" stroke-width="2.4"/>
<text x="1017.4" y="1035.12" font-size="21" text-anchor="end">150</text>
<line x1="1021.9" y1="961.5" x2="1031.9" y2="961.5" stroke="#111" stroke-width="2.4"/>
<text x="1017.4" y="968.85" font-size="21" text-anchor="end">200</text>
<line x1="1084.4" y1="1226.6" x2="1084.4" y2="1238.6" stroke="#111" stroke-width="2.8"/>
<line x1="1164" y1="1226.6" x2="1164" y2="1238.6" stroke="#111" stroke-width="2.8"/>
<line x1="1243.7" y1="1226.6" x2="1243.7" y2="1238.6" stroke="#111" stroke-width="2.8"/>
<text x="1091.4" y="1258.6" font-size="22" text-anchor="end" transform="rotate(-45 1091.4 1258.6)">Control</text>
<text x="1171" y="1258.6" font-size="22" text-anchor="end" transform="rotate(-45 1171 1258.6)">DSS</text>
<text x="1250.7" y="1258.6" font-size="22" text-anchor="end" transform="rotate(-45 1250.7 1258.6)">DSS + Cedrol</text>
<text x="967" y="1094" font-size="25.2" text-anchor="middle" transform="rotate(-90 967 1094)">IL-1β content (pg/mL)</text>
<text x="1164.5" y="1010.5" font-size="23" text-anchor="middle" style="font-weight:normal">#</text>
<text x="1245.7" y="1060.8" font-size="31" text-anchor="middle" letter-spacing="2.6">*</text>
<text x="1375" y="911" font-size="37" text-anchor="start">J</text>
<rect x="1496.3" y="1149.65" width="52" height="76.85" fill="#5E72A3"/>
<line x1="1522.3" y1="1149.65" x2="1522.3" y2="1123.81" stroke="#5E72A3" stroke-width="2.2"/>
<line x1="1510.3" y1="1123.81" x2="1534.3" y2="1123.81" stroke="#5E72A3" stroke-width="2.2"/>
<rect x="1575.7" y="1069.49" width="52" height="157.013" fill="#D9706A"/>
<line x1="1601.7" y1="1069.49" x2="1601.7" y2="1043.32" stroke="#D9706A" stroke-width="2.2"/>
<line x1="1589.7" y1="1043.32" x2="1613.7" y2="1043.32" stroke="#D9706A" stroke-width="2.2"/>
<rect x="1654.7" y="1093.34" width="52" height="133.162" fill="#E3A55F"/>
<line x1="1680.7" y1="1093.34" x2="1680.7" y2="1080.75" stroke="#E3A55F" stroke-width="2.2"/>
<line x1="1668.7" y1="1080.75" x2="1692.7" y2="1080.75" stroke="#E3A55F" stroke-width="2.2"/>
<circle cx="1501.9" cy="1135.41" r="5.2" fill="#000"/>
<circle cx="1515" cy="1135.41" r="5.2" fill="#000"/>
<circle cx="1529" cy="1135.41" r="5.2" fill="#000"/>
<circle cx="1541.9" cy="1125.47" r="5.2" fill="#000"/>
<circle cx="1515" cy="1183.44" r="5.2" fill="#000"/>
<circle cx="1529" cy="1183.44" r="5.2" fill="#000"/>
<circle cx="1601.7" cy="1027.75" r="5.2" fill="#000"/>
<circle cx="1583.6" cy="1057.56" r="5.2" fill="#000"/>
<circle cx="1601.7" cy="1067.5" r="5.2" fill="#000"/>
<circle cx="1619.5" cy="1067.5" r="5.2" fill="#000"/>
<circle cx="1593.2" cy="1095.66" r="5.2" fill="#000"/>
<circle cx="1610.7" cy="1095.66" r="5.2" fill="#000"/>
<circle cx="1663.2" cy="1085.72" r="5.2" fill="#000"/>
<circle cx="1680.7" cy="1085.72" r="5.2" fill="#000"/>
<circle cx="1698.8" cy="1075.78" r="5.2" fill="#000"/>
<circle cx="1663.2" cy="1095.66" r="5.2" fill="#000"/>
<circle cx="1680.7" cy="1107.25" r="5.2" fill="#000"/>
<circle cx="1698.8" cy="1107.25" r="5.2" fill="#000"/>
<line x1="1468.4" y1="960.3" x2="1468.4" y2="1227.9" stroke="#111" stroke-width="2.8"/>
<line x1="1458.4" y1="1226.5" x2="1734.4" y2="1226.5" stroke="#111" stroke-width="2.8"/>
<line x1="1458.4" y1="1226.5" x2="1468.4" y2="1226.5" stroke="#111" stroke-width="2.4"/>
<text x="1453.9" y="1233.85" font-size="21" text-anchor="end">0</text>
<line x1="1458.4" y1="1160.25" x2="1468.4" y2="1160.25" stroke="#111" stroke-width="2.4"/>
<text x="1453.9" y="1167.6" font-size="21" text-anchor="end">2</text>
<line x1="1458.4" y1="1094" x2="1468.4" y2="1094" stroke="#111" stroke-width="2.4"/>
<text x="1453.9" y="1101.35" font-size="21" text-anchor="end">4</text>
<line x1="1458.4" y1="1027.75" x2="1468.4" y2="1027.75" stroke="#111" stroke-width="2.4"/>
<text x="1453.9" y="1035.1" font-size="21" text-anchor="end">6</text>
<line x1="1458.4" y1="961.5" x2="1468.4" y2="961.5" stroke="#111" stroke-width="2.4"/>
<text x="1453.9" y="968.85" font-size="21" text-anchor="end">8</text>
<line x1="1522.3" y1="1226.5" x2="1522.3" y2="1238.5" stroke="#111" stroke-width="2.8"/>
<line x1="1601.7" y1="1226.5" x2="1601.7" y2="1238.5" stroke="#111" stroke-width="2.8"/>
<line x1="1680.7" y1="1226.5" x2="1680.7" y2="1238.5" stroke="#111" stroke-width="2.8"/>
<text x="1529.3" y="1258.5" font-size="22" text-anchor="end" transform="rotate(-45 1529.3 1258.5)">Control</text>
<text x="1608.7" y="1258.5" font-size="22" text-anchor="end" transform="rotate(-45 1608.7 1258.5)">DSS</text>
<text x="1687.7" y="1258.5" font-size="22" text-anchor="end" transform="rotate(-45 1687.7 1258.5)">DSS + Cedrol</text>
<text x="1429" y="1091" font-size="25.1" text-anchor="middle" transform="rotate(-90 1429 1091)">TNF-α content (pg/mL)</text>
<text x="1603.1" y="1017.5" font-size="23" text-anchor="middle" style="font-weight:normal">####</text>
<text x="775" y="460" font-size="37" text-anchor="start">F</text>
<defs>
<filter id="tx1" x="0" y="0" width="100%" height="100%"><feTurbulence type="fractalNoise" baseFrequency="0.5" numOctaves="2" seed="5"/>
<feColorMatrix type="matrix" values="0 0 0 0 0.55  0 0 0 0 0.2  0 0 0 0 0.55  2.2 0 0 0 -0.95"/><feComposite in2="SourceGraphic" operator="in"/></filter>
<filter id="tx2" x="0" y="0" width="100%" height="100%"><feTurbulence type="fractalNoise" baseFrequency="0.12" numOctaves="2" seed="11"/>
<feColorMatrix type="matrix" values="0 0 0 0 0.97  0 0 0 0 0.85  0 0 0 0 0.97  1.9 0 0 0 -0.95"/><feComposite in2="SourceGraphic" operator="in"/></filter>
<filter id="tx3" x="0" y="0" width="100%" height="100%"><feTurbulence type="fractalNoise" baseFrequency="0.6" numOctaves="1" seed="21"/>
<feColorMatrix type="matrix" values="0 0 0 0 0.5  0 0 0 0 0.22  0 0 0 0 0.55  2.0 0 0 0 -1.0"/><feComposite in2="SourceGraphic" operator="in"/></filter>
<filter id="tx4" x="0" y="0" width="100%" height="100%"><feTurbulence type="fractalNoise" baseFrequency="0.55" numOctaves="2" seed="31"/>
<feColorMatrix type="matrix" values="0 0 0 0 0.45  0 0 0 0 0.15  0 0 0 0 0.5  2.6 0 0 0 -1.05"/><feComposite in2="SourceGraphic" operator="in"/></filter>
<filter id="sf"><feGaussianBlur stdDeviation="0.7"/></filter>
<filter id="nuc" x="0" y="0" width="100%" height="100%"><feTurbulence type="fractalNoise" baseFrequency="0.7" numOctaves="1" seed="44"/>
<feColorMatrix type="matrix" values="0 0 0 0 0.3  0 0 0 0 0.08  0 0 0 0 0.38  4.5 0 0 0 -2.55"/><feComposite in2="SourceGraphic" operator="in"/></filter>
<clipPath id="cF1"><rect x="806.5" y="504.5" width="294.5" height="231"/></clipPath>
<clipPath id="cF2"><rect x="1127.5" y="504.5" width="294" height="232.5"/></clipPath>
<clipPath id="cF3"><rect x="1452.5" y="504.5" width="295" height="232.5"/></clipPath>
</defs>
<g clip-path="url(#cF1)"><g filter="url(#sf)">
<rect x="806.5" y="504.5" width="294.5" height="231" fill="#EDB3DA"/>
<clipPath id="cmuc"><path d="M806.5,504.5 L1101,504.5 L1101,706 L1062,692 L1045,696 L1027,701 L992,703 L957,698 L922,684 L887,654 L858,614 L852,588 L826,561 L806.5,530 Z"/></clipPath>
<path d="M806.5,504.5 L1101,504.5 L1101,706 L1062,692 L1045,696 L1027,701 L992,703 L957,698 L922,684 L887,654 L858,614 L852,588 L826,561 L806.5,530 Z" fill="#E3A9E2"/>
<g clip-path="url(#cmuc)">
<ellipse cx="994.8" cy="509.5" rx="3.9" ry="14.9" transform="rotate(197.5 994.8 509.5)" fill="#F2CCF0" stroke="#CB86CF" stroke-width="2.2" opacity="0.9"/>
<ellipse cx="1005.8" cy="684.3" rx="4.3" ry="9.2" transform="rotate(-29.8 1005.8 684.3)" fill="#F2CCF0" stroke="#CB86CF" stroke-width="2.2" opacity="0.9"/>
<ellipse cx="870.9" cy="606.3" rx="3.9" ry="14.2" transform="rotate(68.7 870.9 606.3)" fill="#F2CCF0" stroke="#CB86CF" stroke-width="2.2" opacity="0.9"/>
<ellipse cx="980.0" cy="667.6" rx="5.1" ry="14.6" transform="rotate(-19.2 980.0 667.6)" fill="#F2CCF0" stroke="#CB86CF" stroke-width="2.2" opacity="0.9"/>
<ellipse cx="906.7" cy="535.8" rx="4.2" ry="9.7" transform="rotate(138.4 906.7 535.8)" fill="#F2CCF0" stroke="#CB86CF" stroke-width="2.2" opacity="0.9"/>
<ellipse cx="1021.4" cy="612.5" rx="4.3" ry="13.4" transform="rotate(-55.5 1021.4 612.5)" fill="#F2CCF0" stroke="#CB86CF" stroke-width="2.2" opacity="0.9"/>
<ellipse cx="1060.3" cy="620.8" rx="3.6" ry="10.8" transform="rotate(-65.7 1060.3 620.8)" fill="#F2CCF0" stroke="#CB86CF" stroke-width="2.2" opacity="0.9"/>
<ellipse cx="891.7" cy="520.6" rx="3.7" ry="11.2" transform="rotate(126.5 891.7 520.6)" fill="#F2CCF0" stroke="#CB86CF" stroke-width="2.2" opacity="0.9"/>
<ellipse cx="993.7" cy="578.0" rx="3.9" ry="11.1" transform="rotate(254.0 993.7 578.0)" fill="#F2CCF0" stroke="#CB86CF" stroke-width="2.2" opacity="0.9"/>
<ellipse cx="1082.3" cy="635.1" rx="3.8" ry="14.8" transform="rotate(-64.9 1082.3 635.1)" fill="#F2CCF0" stroke="#CB86CF" stroke-width="2.2" opacity="0.9"/>
<ellipse cx="854.6" cy="581.0" rx="4.8" ry="13.5" transform="rotate(100.9 854.6 581.0)" fill="#F2CCF0" stroke="#CB86CF" stroke-width="2.2" opacity="0.9"/>
<ellipse cx="1008.1" cy="674.3" rx="4.0" ry="9.3" transform="rotate(-20.8 1008.1 674.3)" fill="#F2CCF0" stroke="#CB86CF" stroke-width="2.2" opacity="0.9"/>
<ellipse cx="899.4" cy="558.4" rx="5.4" ry="16.0" transform="rotate(106.8 899.4 558.4)" fill="#F2CCF0" stroke="#CB86CF" stroke-width="2.2" opacity="0.9"/>
<ellipse cx="899.2" cy="636.6" rx="5.3" ry="12.7" transform="rotate(50.0 899.2 636.6)" fill="#F2CCF0" stroke="#CB86CF" stroke-width="2.2" opacity="0.9"/>
<ellipse cx="884.5" cy="554.2" rx="4.0" ry="13.7" transform="rotate(112.0 884.5 554.2)" fill="#F2CCF0" stroke="#CB86CF" stroke-width="2.2" opacity="0.9"/>
<ellipse cx="1070.9" cy="585.0" rx="5.5" ry="13.1" transform="rotate(264.9 1070.9 585.0)" fill="#F2CCF0" stroke="#CB86CF" stroke-width="2.2" opacity="0.9"/>
<ellipse cx="833.3" cy="514.0" rx="4.8" ry="15.3" transform="rotate(111.3 833.3 514.0)" fill="#F2CCF0" stroke="#CB86CF" stroke-width="2.2" opacity="0.9"/>
<ellipse cx="930.8" cy="517.3" rx="5.5" ry="13.2" transform="rotate(151.1 930.8 517.3)" fill="#F2CCF0" stroke="#CB86CF" stroke-width="2.2" opacity="0.9"/>
<ellipse cx="1092.5" cy="677.9" rx="4.9" ry="14.5" transform="rotate(-62.7 1092.5 677.9)" fill="#F2CCF0" stroke="#CB86CF" stroke-width="2.2" opacity="0.9"/>
<ellipse cx="995.3" cy="527.0" rx="4.4" ry="16.6" transform="rotate(206.4 995.3 527.0)" fill="#F2CCF0" stroke="#CB86CF" stroke-width="2.2" opacity="0.9"/>
<ellipse cx="1064.4" cy="557.6" rx="3.9" ry="16.3" transform="rotate(254.6 1064.4 557.6)" fill="#F2CCF0" stroke="#CB86CF" stroke-width="2.2" opacity="0.9"/>
<ellipse cx="994.7" cy="627.2" rx="5.0" ry="13.3" transform="rotate(-41.4 994.7 627.2)" fill="#F2CCF0" stroke="#CB86CF" stroke-width="2.2" opacity="0.9"/>
<ellipse cx="1035.8" cy="611.4" rx="4.1" ry="9.2" transform="rotate(-78.6 1035.8 611.4)" fill="#F2CCF0" stroke="#CB86CF" stroke-width="2.2" opacity="0.9"/>
<ellipse cx="1080.1" cy="681.6" rx="4.1" ry="9.5" transform="rotate(-44.0 1080.1 681.6)" fill="#F2CCF0" stroke="#CB86CF" stroke-width="2.2" opacity="0.9"/>
<ellipse cx="1032.0" cy="530.4" rx="4.6" ry="11.1" transform="rotate(230.4 1032.0 530.4)" fill="#F2CCF0" stroke="#CB86CF" stroke-width="2.2" opacity="0.9"/>
<ellipse cx="1021.5" cy="545.0" rx="5.5" ry="14.2" transform="rotate(231.3 1021.5 545.0)" fill="#F2CCF0" stroke="#CB86CF" stroke-width="2.2" opacity="0.9"/>
<ellipse cx="935.5" cy="608.8" rx="3.9" ry="11.7" transform="rotate(44.3 935.5 608.8)" fill="#F2CCF0" stroke="#CB86CF" stroke-width="2.2" opacity="0.9"/>
<ellipse cx="979.8" cy="550.9" rx="3.6" ry="14.0" transform="rotate(198.3 979.8 550.9)" fill="#F2CCF0" stroke="#CB86CF" stroke-width="2.2" opacity="0.9"/>
<ellipse cx="1059.7" cy="518.8" rx="4.8" ry="10.7" transform="rotate(230.3 1059.7 518.8)" fill="#F2CCF0" stroke="#CB86CF" stroke-width="2.2" opacity="0.9"/>
<ellipse cx="1037.6" cy="667.2" rx="3.7" ry="12.4" transform="rotate(-47.0 1037.6 667.2)" fill="#F2CCF0" stroke="#CB86CF" stroke-width="2.2" opacity="0.9"/>
<ellipse cx="931.2" cy="598.6" rx="4.8" ry="16.9" transform="rotate(72.2 931.2 598.6)" fill="#F2CCF0" stroke="#CB86CF" stroke-width="2.2" opacity="0.9"/>
<ellipse cx="879.7" cy="542.8" rx="4.3" ry="11.2" transform="rotate(115.4 879.7 542.8)" fill="#F2CCF0" stroke="#CB86CF" stroke-width="2.2" opacity="0.9"/>
<ellipse cx="937.0" cy="678.1" rx="3.6" ry="17.0" transform="rotate(17.6 937.0 678.1)" fill="#F2CCF0" stroke="#CB86CF" stroke-width="2.2" opacity="0.9"/>
<ellipse cx="855.5" cy="602.4" rx="4.3" ry="9.5" transform="rotate(75.8 855.5 602.4)" fill="#F2CCF0" stroke="#CB86CF" stroke-width="2.2" opacity="0.9"/>
<ellipse cx="940.5" cy="589.7" rx="5.5" ry="13.4" transform="rotate(87.3 940.5 589.7)" fill="#F2CCF0" stroke="#CB86CF" stroke-width="2.2" opacity="0.9"/>
<ellipse cx="1018.1" cy="535.7" rx="5.4" ry="13.6" transform="rotate(223.4 1018.1 535.7)" fill="#F2CCF0" stroke="#CB86CF" stroke-width="2.2" opacity="0.9"/>
<ellipse cx="966.2" cy="655.2" rx="4.7" ry="13.0" transform="rotate(-8.9 966.2 655.2)" fill="#F2CCF0" stroke="#CB86CF" stroke-width="2.2" opacity="0.9"/>
<ellipse cx="1057.6" cy="536.2" rx="3.7" ry="10.5" transform="rotate(250.5 1057.6 536.2)" fill="#F2CCF0" stroke="#CB86CF" stroke-width="2.2" opacity="0.9"/>
<ellipse cx="981.7" cy="640.6" rx="3.7" ry="16.1" transform="rotate(-21.5 981.7 640.6)" fill="#F2CCF0" stroke="#CB86CF" stroke-width="2.2" opacity="0.9"/>
<ellipse cx="879.0" cy="624.3" rx="4.3" ry="13.7" transform="rotate(67.6 879.0 624.3)" fill="#F2CCF0" stroke="#CB86CF" stroke-width="2.2" opacity="0.9"/>
<ellipse cx="960.5" cy="692.8" rx="4.9" ry="10.9" transform="rotate(-2.9 960.5 692.8)" fill="#F2CCF0" stroke="#CB86CF" stroke-width="2.2" opacity="0.9"/>
<ellipse cx="923.1" cy="639.8" rx="4.1" ry="15.0" transform="rotate(33.8 923.1 639.8)" fill="#F2CCF0" stroke="#CB86CF" stroke-width="2.2" opacity="0.9"/>
<ellipse cx="1100.5" cy="705.2" rx="3.9" ry="11.1" transform="rotate(-56.1 1100.5 705.2)" fill="#F2CCF0" stroke="#CB86CF" stroke-width="2.2" opacity="0.9"/>
<ellipse cx="1013.7" cy="627.8" rx="4.8" ry="9.1" transform="rotate(-39.9 1013.7 627.8)" fill="#F2CCF0" stroke="#CB86CF" stroke-width="2.2" opacity="0.9"/>
<ellipse cx="1047.1" cy="564.8" rx="5.4" ry="10.1" transform="rotate(259.1 1047.1 564.8)" fill="#F2CCF0" stroke="#CB86CF" stroke-width="2.2" opacity="0.9"/>
<ellipse cx="840.5" cy="526.1" rx="4.0" ry="13.8" transform="rotate(116.3 840.5 526.1)" fill="#F2CCF0" stroke="#CB86CF" stroke-width="2.2" opacity="0.9"/>
<ellipse cx="993.3" cy="557.7" rx="5.3" ry="15.8" transform="rotate(225.8 993.3 557.7)" fill="#F2CCF0" stroke="#CB86CF" stroke-width="2.2" opacity="0.9"/>
<ellipse cx="888.0" cy="505.2" rx="4.8" ry="11.1" transform="rotate(140.9 888.0 505.2)" fill="#F2CCF0" stroke="#CB86CF" stroke-width="2.2" opacity="0.9"/>
<ellipse cx="932.5" cy="506.4" rx="5.3" ry="16.2" transform="rotate(149.8 932.5 506.4)" fill="#F2CCF0" stroke="#CB86CF" stroke-width="2.2" opacity="0.9"/>
<ellipse cx="967.2" cy="672.7" rx="3.8" ry="10.0" transform="rotate(0.1 967.2 672.7)" fill="#F2CCF0" stroke="#CB86CF" stroke-width="2.2" opacity="0.9"/>
<ellipse cx="1041.0" cy="677.9" rx="3.9" ry="11.0" transform="rotate(-32.1 1041.0 677.9)" fill="#F2CCF0" stroke="#CB86CF" stroke-width="2.2" opacity="0.9"/>
<ellipse cx="989.3" cy="535.6" rx="5.2" ry="16.8" transform="rotate(213.9 989.3 535.6)" fill="#F2CCF0" stroke="#CB86CF" stroke-width="2.2" opacity="0.9"/>
<ellipse cx="1063.4" cy="677.5" rx="5.1" ry="12.7" transform="rotate(-51.8 1063.4 677.5)" fill="#F2CCF0" stroke="#CB86CF" stroke-width="2.2" opacity="0.9"/>
<ellipse cx="873.5" cy="509.3" rx="4.2" ry="15.9" transform="rotate(124.1 873.5 509.3)" fill="#F2CCF0" stroke="#CB86CF" stroke-width="2.2" opacity="0.9"/>
<ellipse cx="1091.2" cy="560.7" rx="4.3" ry="16.8" transform="rotate(261.7 1091.2 560.7)" fill="#F2CCF0" stroke="#CB86CF" stroke-width="2.2" opacity="0.9"/>
<ellipse cx="934.5" cy="651.3" rx="4.7" ry="13.1" transform="rotate(21.4 934.5 651.3)" fill="#F2CCF0" stroke="#CB86CF" stroke-width="2.2" opacity="0.9"/>
<ellipse cx="919.9" cy="620.7" rx="4.9" ry="9.0" transform="rotate(47.2 919.9 620.7)" fill="#F2CCF0" stroke="#CB86CF" stroke-width="2.2" opacity="0.9"/>
<ellipse cx="1079.1" cy="613.0" rx="5.0" ry="14.4" transform="rotate(-72.3 1079.1 613.0)" fill="#F2CCF0" stroke="#CB86CF" stroke-width="2.2" opacity="0.9"/>
<ellipse cx="913.8" cy="518.6" rx="4.2" ry="11.5" transform="rotate(145.3 913.8 518.6)" fill="#F2CCF0" stroke="#CB86CF" stroke-width="2.2" opacity="0.9"/>
<ellipse cx="926.8" cy="585.6" rx="3.8" ry="12.4" transform="rotate(85.4 926.8 585.6)" fill="#F2CCF0" stroke="#CB86CF" stroke-width="2.2" opacity="0.9"/>
<ellipse cx="1072.4" cy="628.5" rx="4.6" ry="9.0" transform="rotate(-71.5 1072.4 628.5)" fill="#F2CCF0" stroke="#CB86CF" stroke-width="2.2" opacity="0.9"/>
<ellipse cx="891.0" cy="591.1" rx="4.8" ry="12.7" transform="rotate(86.7 891.0 591.1)" fill="#F2CCF0" stroke="#CB86CF" stroke-width="2.2" opacity="0.9"/>
<ellipse cx="936.7" cy="547.6" rx="5.3" ry="15.4" transform="rotate(142.4 936.7 547.6)" fill="#F2CCF0" stroke="#CB86CF" stroke-width="2.2" opacity="0.9"/>
<ellipse cx="856.5" cy="521.6" rx="4.8" ry="11.7" transform="rotate(120.6 856.5 521.6)" fill="#F2CCF0" stroke="#CB86CF" stroke-width="2.2" opacity="0.9"/>
<ellipse cx="1047.5" cy="655.9" rx="3.9" ry="10.6" transform="rotate(-46.2 1047.5 655.9)" fill="#F2CCF0" stroke="#CB86CF" stroke-width="2.2" opacity="0.9"/>
<ellipse cx="1011.6" cy="604.1" rx="4.8" ry="9.0" transform="rotate(-72.3 1011.6 604.1)" fill="#F2CCF0" stroke="#CB86CF" stroke-width="2.2" opacity="0.9"/>
<ellipse cx="1027.7" cy="659.7" rx="4.4" ry="10.4" transform="rotate(-47.1 1027.7 659.7)" fill="#F2CCF0" stroke="#CB86CF" stroke-width="2.2" opacity="0.9"/>
<ellipse cx="1088.6" cy="608.9" rx="4.0" ry="15.8" transform="rotate(-87.2 1088.6 608.9)" fill="#F2CCF0" stroke="#CB86CF" stroke-width="2.2" opacity="0.9"/>
<ellipse cx="940.9" cy="666.0" rx="5.5" ry="13.8" transform="rotate(19.6 940.9 666.0)" fill="#F2CCF0" stroke="#CB86CF" stroke-width="2.2" opacity="0.9"/>
<ellipse cx="986.9" cy="649.4" rx="5.2" ry="13.4" transform="rotate(-18.7 986.9 649.4)" fill="#F2CCF0" stroke="#CB86CF" stroke-width="2.2" opacity="0.9"/>
<ellipse cx="1070.7" cy="654.3" rx="4.0" ry="11.0" transform="rotate(-57.2 1070.7 654.3)" fill="#F2CCF0" stroke="#CB86CF" stroke-width="2.2" opacity="0.9"/>
<ellipse cx="994.3" cy="658.8" rx="4.8" ry="11.2" transform="rotate(-21.3 994.3 658.8)" fill="#F2CCF0" stroke="#CB86CF" stroke-width="2.2" opacity="0.9"/>
<ellipse cx="829.3" cy="562.1" rx="4.1" ry="13.3" transform="rotate(95.5 829.3 562.1)" fill="#F2CCF0" stroke="#CB86CF" stroke-width="2.2" opacity="0.9"/>
<ellipse cx="847.3" cy="551.1" rx="4.9" ry="9.5" transform="rotate(109.6 847.3 551.1)" fill="#F2CCF0" stroke="#CB86CF" stroke-width="2.2" opacity="0.9"/>
<ellipse cx="930.2" cy="686.8" rx="4.9" ry="15.9" transform="rotate(20.4 930.2 686.8)" fill="#F2CCF0" stroke="#CB86CF" stroke-width="2.2" opacity="0.9"/>
<ellipse cx="1032.0" cy="581.1" rx="4.2" ry="15.0" transform="rotate(257.8 1032.0 581.1)" fill="#F2CCF0" stroke="#CB86CF" stroke-width="2.2" opacity="0.9"/>
<ellipse cx="967.3" cy="626.1" rx="3.9" ry="12.5" transform="rotate(-8.3 967.3 626.1)" fill="#F2CCF0" stroke="#CB86CF" stroke-width="2.2" opacity="0.9"/>
<ellipse cx="1006.5" cy="586.0" rx="4.4" ry="10.0" transform="rotate(-94.7 1006.5 586.0)" fill="#F2CCF0" stroke="#CB86CF" stroke-width="2.2" opacity="0.9"/>
<ellipse cx="868.8" cy="570.4" rx="4.3" ry="15.0" transform="rotate(103.4 868.8 570.4)" fill="#F2CCF0" stroke="#CB86CF" stroke-width="2.2" opacity="0.9"/>
<ellipse cx="909.6" cy="635.5" rx="4.8" ry="15.0" transform="rotate(52.7 909.6 635.5)" fill="#F2CCF0" stroke="#CB86CF" stroke-width="2.2" opacity="0.9"/>
<ellipse cx="1086.2" cy="544.7" rx="3.8" ry="10.0" transform="rotate(243.0 1086.2 544.7)" fill="#F2CCF0" stroke="#CB86CF" stroke-width="2.2" opacity="0.9"/>
<ellipse cx="1003.7" cy="618.1" rx="4.9" ry="15.1" transform="rotate(-54.5 1003.7 618.1)" fill="#F2CCF0" stroke="#CB86CF" stroke-width="2.2" opacity="0.9"/>
<ellipse cx="1088.7" cy="584.4" rx="3.7" ry="14.5" transform="rotate(273.6 1088.7 584.4)" fill="#F2CCF0" stroke="#CB86CF" stroke-width="2.2" opacity="0.9"/>
<ellipse cx="1096.2" cy="662.2" rx="4.4" ry="12.0" transform="rotate(-62.3 1096.2 662.2)" fill="#F2CCF0" stroke="#CB86CF" stroke-width="2.2" opacity="0.9"/>
<ellipse cx="993.7" cy="671.5" rx="4.4" ry="14.9" transform="rotate(-14.6 993.7 671.5)" fill="#F2CCF0" stroke="#CB86CF" stroke-width="2.2" opacity="0.9"/>
<ellipse cx="1021.8" cy="558.6" rx="5.2" ry="9.7" transform="rotate(251.4 1021.8 558.6)" fill="#F2CCF0" stroke="#CB86CF" stroke-width="2.2" opacity="0.9"/>
<ellipse cx="943.4" cy="627.5" rx="3.6" ry="15.8" transform="rotate(24.8 943.4 627.5)" fill="#F2CCF0" stroke="#CB86CF" stroke-width="2.2" opacity="0.9"/>
<ellipse cx="860.1" cy="547.2" rx="4.2" ry="16.0" transform="rotate(115.1 860.1 547.2)" fill="#F2CCF0" stroke="#CB86CF" stroke-width="2.2" opacity="0.9"/>
<ellipse cx="950.4" cy="657.3" rx="4.8" ry="12.9" transform="rotate(14.9 950.4 657.3)" fill="#F2CCF0" stroke="#CB86CF" stroke-width="2.2" opacity="0.9"/>
<ellipse cx="1040.0" cy="523.3" rx="4.9" ry="11.4" transform="rotate(225.5 1040.0 523.3)" fill="#F2CCF0" stroke="#CB86CF" stroke-width="2.2" opacity="0.9"/>
<ellipse cx="977.8" cy="599.9" rx="4.4" ry="15.0" transform="rotate(-40.1 977.8 599.9)" fill="#F2CCF0" stroke="#CB86CF" stroke-width="2.2" opacity="0.9"/>
<ellipse cx="903.9" cy="646.1" rx="4.0" ry="10.0" transform="rotate(40.9 903.9 646.1)" fill="#F2CCF0" stroke="#CB86CF" stroke-width="2.2" opacity="0.9"/>
<ellipse cx="859.3" cy="507.4" rx="4.0" ry="16.8" transform="rotate(126.9 859.3 507.4)" fill="#F2CCF0" stroke="#CB86CF" stroke-width="2.2" opacity="0.9"/>
<ellipse cx="969.5" cy="645.0" rx="5.2" ry="12.9" transform="rotate(-11.0 969.5 645.0)" fill="#F2CCF0" stroke="#CB86CF" stroke-width="2.2" opacity="0.9"/>
<ellipse cx="1048.6" cy="585.2" rx="4.8" ry="9.4" transform="rotate(-97.5 1048.6 585.2)" fill="#F2CCF0" stroke="#CB86CF" stroke-width="2.2" opacity="0.9"/>
<ellipse cx="852.8" cy="539.5" rx="3.5" ry="12.6" transform="rotate(104.4 852.8 539.5)" fill="#F2CCF0" stroke="#CB86CF" stroke-width="2.2" opacity="0.9"/>
<ellipse cx="981.4" cy="563.2" rx="4.9" ry="14.6" transform="rotate(212.1 981.4 563.2)" fill="#F2CCF0" stroke="#CB86CF" stroke-width="2.2" opacity="0.9"/>
<ellipse cx="940.2" cy="643.0" rx="5.1" ry="14.0" transform="rotate(30.8 940.2 643.0)" fill="#F2CCF0" stroke="#CB86CF" stroke-width="2.2" opacity="0.9"/>
<ellipse cx="855.4" cy="566.5" rx="4.6" ry="11.3" transform="rotate(104.1 855.4 566.5)" fill="#F2CCF0" stroke="#CB86CF" stroke-width="2.2" opacity="0.9"/>
<ellipse cx="1012.6" cy="694.4" rx="4.5" ry="9.6" transform="rotate(-23.5 1012.6 694.4)" fill="#F2CCF0" stroke="#CB86CF" stroke-width="2.2" opacity="0.9"/>
<ellipse cx="1004.5" cy="558.8" rx="5.0" ry="12.8" transform="rotate(228.2 1004.5 558.8)" fill="#F2CCF0" stroke="#CB86CF" stroke-width="2.2" opacity="0.9"/>
<ellipse cx="1059.1" cy="571.0" rx="4.1" ry="16.6" transform="rotate(265.0 1059.1 571.0)" fill="#F2CCF0" stroke="#CB86CF" stroke-width="2.2" opacity="0.9"/>
<ellipse cx="1046.1" cy="615.3" rx="4.1" ry="11.6" transform="rotate(-70.3 1046.1 615.3)" fill="#F2CCF0" stroke="#CB86CF" stroke-width="2.2" opacity="0.9"/>
<ellipse cx="928.2" cy="542.3" rx="5.0" ry="14.0" transform="rotate(136.8 928.2 542.3)" fill="#F2CCF0" stroke="#CB86CF" stroke-width="2.2" opacity="0.9"/>
<ellipse cx="1098.7" cy="688.5" rx="3.7" ry="15.7" transform="rotate(-53.0 1098.7 688.5)" fill="#F2CCF0" stroke="#CB86CF" stroke-width="2.2" opacity="0.9"/>
<ellipse cx="956.2" cy="681.7" rx="4.1" ry="15.3" transform="rotate(11.8 956.2 681.7)" fill="#F2CCF0" stroke="#CB86CF" stroke-width="2.2" opacity="0.9"/>
<ellipse cx="956.0" cy="669.8" rx="4.1" ry="13.7" transform="rotate(2.1 956.0 669.8)" fill="#F2CCF0" stroke="#CB86CF" stroke-width="2.2" opacity="0.9"/>
<ellipse cx="1100.7" cy="603.2" rx="4.6" ry="11.8" transform="rotate(-88.7 1100.7 603.2)" fill="#F2CCF0" stroke="#CB86CF" stroke-width="2.2" opacity="0.9"/>
<ellipse cx="969.0" cy="614.0" rx="4.1" ry="10.5" transform="rotate(-8.7 969.0 614.0)" fill="#F2CCF0" stroke="#CB86CF" stroke-width="2.2" opacity="0.9"/>
<ellipse cx="952.4" cy="512.0" rx="4.7" ry="16.0" transform="rotate(170.2 952.4 512.0)" fill="#F2CCF0" stroke="#CB86CF" stroke-width="2.2" opacity="0.9"/>
<ellipse cx="1063.9" cy="593.2" rx="4.4" ry="14.8" transform="rotate(-84.8 1063.9 593.2)" fill="#F2CCF0" stroke="#CB86CF" stroke-width="2.2" opacity="0.9"/>
<ellipse cx="1091.9" cy="572.7" rx="4.8" ry="15.8" transform="rotate(267.9 1091.9 572.7)" fill="#F2CCF0" stroke="#CB86CF" stroke-width="2.2" opacity="0.9"/>
<ellipse cx="918.4" cy="568.3" rx="5.0" ry="16.0" transform="rotate(113.7 918.4 568.3)" fill="#F2CCF0" stroke="#CB86CF" stroke-width="2.2" opacity="0.9"/>
<ellipse cx="817.1" cy="518.3" rx="5.3" ry="17.0" transform="rotate(116.6 817.1 518.3)" fill="#F2CCF0" stroke="#CB86CF" stroke-width="2.2" opacity="0.9"/>
<ellipse cx="1026.4" cy="591.9" rx="4.8" ry="16.0" transform="rotate(-90.8 1026.4 591.9)" fill="#F2CCF0" stroke="#CB86CF" stroke-width="2.2" opacity="0.9"/>
<ellipse cx="1072.6" cy="513.8" rx="4.1" ry="12.0" transform="rotate(241.8 1072.6 513.8)" fill="#F2CCF0" stroke="#CB86CF" stroke-width="2.2" opacity="0.9"/>
<ellipse cx="1071.9" cy="641.0" rx="4.4" ry="11.8" transform="rotate(-68.5 1071.9 641.0)" fill="#F2CCF0" stroke="#CB86CF" stroke-width="2.2" opacity="0.9"/>
<ellipse cx="919.8" cy="601.9" rx="4.6" ry="13.6" transform="rotate(64.8 919.8 601.9)" fill="#F2CCF0" stroke="#CB86CF" stroke-width="2.2" opacity="0.9"/>
<ellipse cx="1094.5" cy="637.1" rx="4.6" ry="14.5" transform="rotate(-72.1 1094.5 637.1)" fill="#F2CCF0" stroke="#CB86CF" stroke-width="2.2" opacity="0.9"/>
<ellipse cx="1025.8" cy="514.4" rx="4.5" ry="16.2" transform="rotate(222.6 1025.8 514.4)" fill="#F2CCF0" stroke="#CB86CF" stroke-width="2.2" opacity="0.9"/>
<ellipse cx="1006.1" cy="649.8" rx="5.2" ry="14.0" transform="rotate(-29.5 1006.1 649.8)" fill="#F2CCF0" stroke="#CB86CF" stroke-width="2.2" opacity="0.9"/>
<ellipse cx="977.2" cy="652.1" rx="4.1" ry="15.0" transform="rotate(-17.7 977.2 652.1)" fill="#F2CCF0" stroke="#CB86CF" stroke-width="2.2" opacity="0.9"/>
<ellipse cx="1090.1" cy="532.9" rx="5.2" ry="14.8" transform="rotate(255.8 1090.1 532.9)" fill="#F2CCF0" stroke="#CB86CF" stroke-width="2.2" opacity="0.9"/>
<ellipse cx="1039.4" cy="507.3" rx="4.4" ry="14.4" transform="rotate(224.4 1039.4 507.3)" fill="#F2CCF0" stroke="#CB86CF" stroke-width="2.2" opacity="0.9"/>
<ellipse cx="1048.7" cy="694.0" rx="4.0" ry="9.2" transform="rotate(-44.6 1048.7 694.0)" fill="#F2CCF0" stroke="#CB86CF" stroke-width="2.2" opacity="0.9"/>
<ellipse cx="1076.0" cy="549.1" rx="5.1" ry="16.3" transform="rotate(244.2 1076.0 549.1)" fill="#F2CCF0" stroke="#CB86CF" stroke-width="2.2" opacity="0.9"/>
<ellipse cx="896.1" cy="603.8" rx="5.3" ry="10.1" transform="rotate(67.5 896.1 603.8)" fill="#F2CCF0" stroke="#CB86CF" stroke-width="2.2" opacity="0.9"/>
<ellipse cx="1025.4" cy="695.1" rx="5.0" ry="10.2" transform="rotate(-30.2 1025.4 695.1)" fill="#F2CCF0" stroke="#CB86CF" stroke-width="2.2" opacity="0.9"/>
<ellipse cx="950.6" cy="586.7" rx="3.6" ry="12.0" transform="rotate(91.2 950.6 586.7)" fill="#F2CCF0" stroke="#CB86CF" stroke-width="2.2" opacity="0.9"/>
<ellipse cx="878.2" cy="529.9" rx="3.6" ry="15.1" transform="rotate(123.6 878.2 529.9)" fill="#F2CCF0" stroke="#CB86CF" stroke-width="2.2" opacity="0.9"/>
<ellipse cx="1084.9" cy="513.2" rx="5.2" ry="13.2" transform="rotate(244.2 1084.9 513.2)" fill="#F2CCF0" stroke="#CB86CF" stroke-width="2.2" opacity="0.9"/>
<ellipse cx="985.6" cy="517.7" rx="4.8" ry="13.4" transform="rotate(193.0 985.6 517.7)" fill="#F2CCF0" stroke="#CB86CF" stroke-width="2.2" opacity="0.9"/>
<ellipse cx="906.3" cy="595.9" rx="3.7" ry="12.4" transform="rotate(78.0 906.3 595.9)" fill="#F2CCF0" stroke="#CB86CF" stroke-width="2.2" opacity="0.9"/>
<ellipse cx="842.5" cy="575.8" rx="5.0" ry="15.9" transform="rotate(97.3 842.5 575.8)" fill="#F2CCF0" stroke="#CB86CF" stroke-width="2.2" opacity="0.9"/>
<ellipse cx="983.3" cy="575.4" rx="3.9" ry="14.3" transform="rotate(243.6 983.3 575.4)" fill="#F2CCF0" stroke="#CB86CF" stroke-width="2.2" opacity="0.9"/>
<ellipse cx="1031.1" cy="620.2" rx="5.2" ry="16.8" transform="rotate(-56.4 1031.1 620.2)" fill="#F2CCF0" stroke="#CB86CF" stroke-width="2.2" opacity="0.9"/>
<ellipse cx="1047.5" cy="628.1" rx="3.6" ry="16.4" transform="rotate(-59.8 1047.5 628.1)" fill="#F2CCF0" stroke="#CB86CF" stroke-width="2.2" opacity="0.9"/>
<ellipse cx="897.5" cy="573.0" rx="5.2" ry="13.5" transform="rotate(91.2 897.5 573.0)" fill="#F2CCF0" stroke="#CB86CF" stroke-width="2.2" opacity="0.9"/>
<ellipse cx="924.5" cy="533.1" rx="3.6" ry="15.0" transform="rotate(144.5 924.5 533.1)" fill="#F2CCF0" stroke="#CB86CF" stroke-width="2.2" opacity="0.9"/>
<ellipse cx="869.9" cy="589.1" rx="4.2" ry="14.8" transform="rotate(84.7 869.9 589.1)" fill="#F2CCF0" stroke="#CB86CF" stroke-width="2.2" opacity="0.9"/>
<ellipse cx="936.7" cy="559.5" rx="3.7" ry="12.4" transform="rotate(136.5 936.7 559.5)" fill="#F2CCF0" stroke="#CB86CF" stroke-width="2.2" opacity="0.9"/>
<ellipse cx="889.9" cy="641.2" rx="4.8" ry="9.4" transform="rotate(52.9 889.9 641.2)" fill="#F2CCF0" stroke="#CB86CF" stroke-width="2.2" opacity="0.9"/>
<ellipse cx="868.7" cy="532.2" rx="4.2" ry="9.1" transform="rotate(114.4 868.7 532.2)" fill="#F2CCF0" stroke="#CB86CF" stroke-width="2.2" opacity="0.9"/>
<ellipse cx="1047.7" cy="668.7" rx="3.8" ry="10.6" transform="rotate(-49.4 1047.7 668.7)" fill="#F2CCF0" stroke="#CB86CF" stroke-width="2.2" opacity="0.9"/>
<ellipse cx="999.5" cy="540.2" rx="4.5" ry="15.0" transform="rotate(222.5 999.5 540.2)" fill="#F2CCF0" stroke="#CB86CF" stroke-width="2.2" opacity="0.9"/>
<ellipse cx="1061.0" cy="630.9" rx="3.6" ry="12.5" transform="rotate(-70.7 1061.0 630.9)" fill="#F2CCF0" stroke="#CB86CF" stroke-width="2.2" opacity="0.9"/>
<ellipse cx="879.5" cy="592.7" rx="4.5" ry="10.3" transform="rotate(83.8 879.5 592.7)" fill="#F2CCF0" stroke="#CB86CF" stroke-width="2.2" opacity="0.9"/>
<ellipse cx="978.1" cy="533.0" rx="5.4" ry="14.6" transform="rotate(191.5 978.1 533.0)" fill="#F2CCF0" stroke="#CB86CF" stroke-width="2.2" opacity="0.9"/>
<ellipse cx="1082.7" cy="566.9" rx="5.1" ry="15.5" transform="rotate(259.0 1082.7 566.9)" fill="#F2CCF0" stroke="#CB86CF" stroke-width="2.2" opacity="0.9"/>
<ellipse cx="1024.1" cy="642.6" rx="4.8" ry="12.4" transform="rotate(-45.2 1024.1 642.6)" fill="#F2CCF0" stroke="#CB86CF" stroke-width="2.2" opacity="0.9"/>
<ellipse cx="913.1" cy="577.6" rx="3.9" ry="16.6" transform="rotate(92.4 913.1 577.6)" fill="#F2CCF0" stroke="#CB86CF" stroke-width="2.2" opacity="0.9"/>
<ellipse cx="949.7" cy="550.1" rx="3.7" ry="15.8" transform="rotate(149.8 949.7 550.1)" fill="#F2CCF0" stroke="#CB86CF" stroke-width="2.2" opacity="0.9"/>
<ellipse cx="1044.8" cy="537.9" rx="4.3" ry="14.4" transform="rotate(238.3 1044.8 537.9)" fill="#F2CCF0" stroke="#CB86CF" stroke-width="2.2" opacity="0.9"/>
<ellipse cx="890.4" cy="655.3" rx="4.6" ry="11.5" transform="rotate(45.8 890.4 655.3)" fill="#F2CCF0" stroke="#CB86CF" stroke-width="2.2" opacity="0.9"/>
<ellipse cx="1044.6" cy="599.0" rx="4.2" ry="16.6" transform="rotate(-74.0 1044.6 599.0)" fill="#F2CCF0" stroke="#CB86CF" stroke-width="2.2" opacity="0.9"/>
<ellipse cx="889.5" cy="581.4" rx="5.4" ry="15.5" transform="rotate(93.2 889.5 581.4)" fill="#F2CCF0" stroke="#CB86CF" stroke-width="2.2" opacity="0.9"/>
<ellipse cx="1073.1" cy="534.2" rx="5.4" ry="10.8" transform="rotate(243.7 1073.1 534.2)" fill="#F2CCF0" stroke="#CB86CF" stroke-width="2.2" opacity="0.9"/>
<ellipse cx="939.4" cy="574.9" rx="3.6" ry="13.0" transform="rotate(102.9 939.4 574.9)" fill="#F2CCF0" stroke="#CB86CF" stroke-width="2.2" opacity="0.9"/>
<ellipse cx="839.2" cy="562.6" rx="3.6" ry="12.4" transform="rotate(96.5 839.2 562.6)" fill="#F2CCF0" stroke="#CB86CF" stroke-width="2.2" opacity="0.9"/>
<ellipse cx="982.2" cy="507.8" rx="4.0" ry="10.1" transform="rotate(192.9 982.2 507.8)" fill="#F2CCF0" stroke="#CB86CF" stroke-width="2.2" opacity="0.9"/>
<ellipse cx="932.9" cy="628.4" rx="4.3" ry="14.3" transform="rotate(31.8 932.9 628.4)" fill="#F2CCF0" stroke="#CB86CF" stroke-width="2.2" opacity="0.9"/>
<ellipse cx="1023.0" cy="571.5" rx="4.6" ry="15.5" transform="rotate(248.7 1023.0 571.5)" fill="#F2CCF0" stroke="#CB86CF" stroke-width="2.2" opacity="0.9"/>
<ellipse cx="819.4" cy="544.7" rx="5.4" ry="13.1" transform="rotate(97.2 819.4 544.7)" fill="#F2CCF0" stroke="#CB86CF" stroke-width="2.2" opacity="0.9"/>
<ellipse cx="1097.8" cy="613.9" rx="5.0" ry="10.5" transform="rotate(-82.2 1097.8 613.9)" fill="#F2CCF0" stroke="#CB86CF" stroke-width="2.2" opacity="0.9"/>
<ellipse cx="911.6" cy="661.8" rx="4.2" ry="10.0" transform="rotate(41.4 911.6 661.8)" fill="#F2CCF0" stroke="#CB86CF" stroke-width="2.2" opacity="0.9"/>
<ellipse cx="1025.4" cy="684.8" rx="5.4" ry="13.0" transform="rotate(-33.2 1025.4 684.8)" fill="#F2CCF0" stroke="#CB86CF" stroke-width="2.2" opacity="0.9"/>
<ellipse cx="896.8" cy="625.9" rx="4.9" ry="11.8" transform="rotate(57.7 896.8 625.9)" fill="#F2CCF0" stroke="#CB86CF" stroke-width="2.2" opacity="0.9"/>
<ellipse cx="1042.4" cy="641.4" rx="3.8" ry="13.9" transform="rotate(-45.8 1042.4 641.4)" fill="#F2CCF0" stroke="#CB86CF" stroke-width="2.2" opacity="0.9"/>
<ellipse cx="951.2" cy="529.2" rx="4.4" ry="16.2" transform="rotate(172.4 951.2 529.2)" fill="#F2CCF0" stroke="#CB86CF" stroke-width="2.2" opacity="0.9"/>
<ellipse cx="1006.8" cy="573.9" rx="5.1" ry="14.1" transform="rotate(262.0 1006.8 573.9)" fill="#F2CCF0" stroke="#CB86CF" stroke-width="2.2" opacity="0.9"/>
<ellipse cx="822.8" cy="529.5" rx="3.8" ry="11.6" transform="rotate(105.1 822.8 529.5)" fill="#F2CCF0" stroke="#CB86CF" stroke-width="2.2" opacity="0.9"/>
<ellipse cx="993.5" cy="615.5" rx="4.1" ry="13.3" transform="rotate(-49.8 993.5 615.5)" fill="#F2CCF0" stroke="#CB86CF" stroke-width="2.2" opacity="0.9"/>
<ellipse cx="954.5" cy="538.5" rx="3.8" ry="14.3" transform="rotate(175.2 954.5 538.5)" fill="#F2CCF0" stroke="#CB86CF" stroke-width="2.2" opacity="0.9"/>
<ellipse cx="1018.1" cy="652.4" rx="5.5" ry="10.0" transform="rotate(-31.7 1018.1 652.4)" fill="#F2CCF0" stroke="#CB86CF" stroke-width="2.2" opacity="0.9"/>
<ellipse cx="958.1" cy="605.0" rx="3.5" ry="16.6" transform="rotate(15.6 958.1 605.0)" fill="#F2CCF0" stroke="#CB86CF" stroke-width="2.2" opacity="0.9"/>
<ellipse cx="945.1" cy="612.6" rx="4.4" ry="16.1" transform="rotate(42.0 945.1 612.6)" fill="#F2CCF0" stroke="#CB86CF" stroke-width="2.2" opacity="0.9"/>
<ellipse cx="1006.9" cy="528.4" rx="4.3" ry="15.4" transform="rotate(225.1 1006.9 528.4)" fill="#F2CCF0" stroke="#CB86CF" stroke-width="2.2" opacity="0.9"/>
<ellipse cx="1004.9" cy="701.9" rx="5.1" ry="14.8" transform="rotate(-17.3 1004.9 701.9)" fill="#F2CCF0" stroke="#CB86CF" stroke-width="2.2" opacity="0.9"/>
<ellipse cx="1009.1" cy="509.9" rx="5.4" ry="15.3" transform="rotate(210.0 1009.1 509.9)" fill="#F2CCF0" stroke="#CB86CF" stroke-width="2.2" opacity="0.9"/>
<ellipse cx="1034.7" cy="690.0" rx="5.0" ry="9.5" transform="rotate(-26.9 1034.7 690.0)" fill="#F2CCF0" stroke="#CB86CF" stroke-width="2.2" opacity="0.9"/>
<ellipse cx="1033.9" cy="649.8" rx="4.9" ry="13.9" transform="rotate(-44.2 1033.9 649.8)" fill="#F2CCF0" stroke="#CB86CF" stroke-width="2.2" opacity="0.9"/>
<ellipse cx="891.6" cy="546.3" rx="4.1" ry="11.8" transform="rotate(121.5 891.6 546.3)" fill="#F2CCF0" stroke="#CB86CF" stroke-width="2.2" opacity="0.9"/>
<ellipse cx="1081.5" cy="664.8" rx="3.7" ry="14.4" transform="rotate(-59.7 1081.5 664.8)" fill="#F2CCF0" stroke="#CB86CF" stroke-width="2.2" opacity="0.9"/>
<ellipse cx="1081.3" cy="644.8" rx="4.7" ry="13.7" transform="rotate(-69.3 1081.3 644.8)" fill="#F2CCF0" stroke="#CB86CF" stroke-width="2.2" opacity="0.9"/>
<ellipse cx="877.9" cy="639.5" rx="4.8" ry="9.4" transform="rotate(58.5 877.9 639.5)" fill="#F2CCF0" stroke="#CB86CF" stroke-width="2.2" opacity="0.9"/>
<ellipse cx="1100.2" cy="584.5" rx="5.4" ry="16.7" transform="rotate(269.7 1100.2 584.5)" fill="#F2CCF0" stroke="#CB86CF" stroke-width="2.2" opacity="0.9"/>
<ellipse cx="839.7" cy="537.2" rx="4.0" ry="10.5" transform="rotate(110.1 839.7 537.2)" fill="#F2CCF0" stroke="#CB86CF" stroke-width="2.2" opacity="0.9"/>
<ellipse cx="1019.4" cy="506.8" rx="4.9" ry="9.5" transform="rotate(217.6 1019.4 506.8)" fill="#F2CCF0" stroke="#CB86CF" stroke-width="2.2" opacity="0.9"/>
<ellipse cx="898.1" cy="528.2" rx="4.1" ry="13.9" transform="rotate(137.8 898.1 528.2)" fill="#F2CCF0" stroke="#CB86CF" stroke-width="2.2" opacity="0.9"/>
<ellipse cx="870.8" cy="554.4" rx="5.2" ry="9.7" transform="rotate(112.6 870.8 554.4)" fill="#F2CCF0" stroke="#CB86CF" stroke-width="2.2" opacity="0.9"/>
<path d="M806.5,504.5 L1101,504.5 L1101,706 L1062,692 L1045,696 L1027,701 L992,703 L957,698 L922,684 L887,654 L858,614 L852,588 L826,561 L806.5,530 Z" fill="#000" filter="url(#tx1)" opacity="0.8"/>
</g>
<path d="M806.5,530 L826,561 L852,588 L858,614 L887,654 L922,684 L957,698 L992,703 L1027,701 L1045,696 L1062,692 L1101,706 L1101,736 L913,736 L870,701 L835,675 L806.5,640 Z" fill="#000" filter="url(#tx3)" opacity="0.55"/>
<path d="M806.5,640 L835,675 L870,701 L913,736 L806.5,736 Z" fill="#E7E6E8"/>
<path d="M806.5,529 C815,545 822,558 830,565 C845,578 852,590 856,612 C866,632 880,650 900,668 C920,686 945,697 980,701 C1010,704 1030,700 1050,693 C1070,690 1085,698 1101,708" fill="none" stroke="#F8F2F6" stroke-width="4.5"/>
<path d="M806.5,555 C830,585 850,600 860,640" fill="none" stroke="#F3E3EF" stroke-width="2"/>
<path d="M1052,505 C1055,560 1052,620 1056,676" fill="none" stroke="#F1D9EC" stroke-width="5"/>
<path d="M950,504.5 L972,504.5 L975,540 L977,560 L990,553 L994,557 L980,571 L984,588 L1010,624 L1020,646 L1015,649 L1004,631 L979,598 L967,600 L962,616 L956,614 L961,592 L964,566 Z" fill="#F7F3F6"/>
</g>
<path d="M989,570 C1005,571 1030,588 1041,605 C1046,613 1042,617 1037,612 C1024,598 1005,590 989,585" fill="none" stroke="#2A1530" stroke-width="1.3" stroke-dasharray="2 1.2"/>
</g>
<line x1="816" y1="727" x2="900" y2="727" stroke="#333" stroke-width="1.6"/>
<text x="857" y="722" font-size="13.2" text-anchor="middle" style="font-weight:normal" fill="#333">200 μm</text>
<g clip-path="url(#cF2)"><g filter="url(#sf)">
<rect x="1127.5" y="504.5" width="294" height="232.5" fill="#E2ABE0"/>
<ellipse cx="1150" cy="520" rx="14" ry="20" transform="rotate(0 1150 520)" fill="#E6B8E4" stroke="#C07CC6" stroke-width="3"/>
<ellipse cx="1150" cy="520" rx="2.52" ry="11" transform="rotate(0 1150 520)" fill="#F1DDF0"/>
<ellipse cx="1188" cy="530" rx="15" ry="22" transform="rotate(0 1188 530)" fill="#E6B8E4" stroke="#C07CC6" stroke-width="3"/>
<ellipse cx="1188" cy="530" rx="2.7" ry="12.1" transform="rotate(0 1188 530)" fill="#F1DDF0"/>
<ellipse cx="1228" cy="535" rx="16" ry="23" transform="rotate(0 1228 535)" fill="#E6B8E4" stroke="#C07CC6" stroke-width="3"/>
<ellipse cx="1228" cy="535" rx="2.88" ry="12.65" transform="rotate(0 1228 535)" fill="#F1DDF0"/>
<ellipse cx="1262" cy="545" rx="12" ry="20" transform="rotate(0 1262 545)" fill="#E6B8E4" stroke="#C07CC6" stroke-width="3"/>
<ellipse cx="1262" cy="545" rx="2.16" ry="11" transform="rotate(0 1262 545)" fill="#F1DDF0"/>
<ellipse cx="1290" cy="528" rx="11" ry="26" transform="rotate(15 1290 528)" fill="#E6B8E4" stroke="#C07CC6" stroke-width="3"/>
<ellipse cx="1290" cy="528" rx="1.98" ry="14.3" transform="rotate(15 1290 528)" fill="#F1DDF0"/>
<ellipse cx="1327" cy="530" rx="12" ry="26" transform="rotate(10 1327 530)" fill="#E6B8E4" stroke="#C07CC6" stroke-width="3"/>
<ellipse cx="1327" cy="530" rx="2.16" ry="14.3" transform="rotate(10 1327 530)" fill="#F1DDF0"/>
<ellipse cx="1365" cy="525" rx="14" ry="22" transform="rotate(0 1365 525)" fill="#E6B8E4" stroke="#C07CC6" stroke-width="3"/>
<ellipse cx="1365" cy="525" rx="2.52" ry="12.1" transform="rotate(0 1365 525)" fill="#F1DDF0"/>
<ellipse cx="1400" cy="525" rx="12" ry="24" transform="rotate(0 1400 525)" fill="#E6B8E4" stroke="#C07CC6" stroke-width="3"/>
<ellipse cx="1400" cy="525" rx="2.16" ry="13.2" transform="rotate(0 1400 525)" fill="#F1DDF0"/>
<ellipse cx="1240" cy="570" rx="12" ry="12" transform="rotate(0 1240 570)" fill="#E6B8E4" stroke="#C07CC6" stroke-width="3"/>
<ellipse cx="1240" cy="570" rx="2.16" ry="6.6" transform="rotate(0 1240 570)" fill="#F1DDF0"/>
<path d="M1127.5,504.5 L1421.5,504.5 L1421.5,700 L1365,692 L1290,662 L1214,620 L1127.5,588 Z" fill="#000" filter="url(#tx4)" opacity="0.6"/>
<path d="M1127.5,504.5 L1421.5,504.5 L1421.5,700 L1365,692 L1290,662 L1214,620 L1127.5,588 Z" fill="#000" filter="url(#nuc)" opacity="0.8"/>
<path d="M1127.5,588 L1214,620 L1290,662 L1365,692 L1421.5,700 L1421.5,737 L1282,737 L1274,722 L1252,692 L1176,666 L1127.5,647 Z" fill="#E9B0D8"/>
<path d="M1127.5,588 L1214,620 L1290,662 L1365,692 L1421.5,700 L1421.5,737 L1282,737 L1274,722 L1252,692 L1176,666 L1127.5,647 Z" fill="#000" filter="url(#tx3)" opacity="0.7"/>
<path d="M1127.5,647 L1176,666 L1252,692 L1274,722 L1282,737 L1127.5,737 Z" fill="#E7E6E8"/>
<path d="M1127.5,590 C1160,600 1190,612 1214,622 C1250,640 1270,652 1300,665" fill="none" stroke="#F1DCEC" stroke-width="4"/>
<path d="M1127.5,600 C1160,610 1200,640 1240,655" fill="none" stroke="#F3E6F0" stroke-width="2.5"/>
<path d="M1380,690 C1395,693 1410,694 1421.5,694" fill="none" stroke="#F5EEF4" stroke-width="5"/>
</g></g>
<line x1="1136" y1="724.6" x2="1221" y2="724.6" stroke="#333" stroke-width="1.6"/>
<text x="1179" y="719.5" font-size="13.2" text-anchor="middle" style="font-weight:normal" fill="#333">200 μm</text>
<path d="M1375,601 L1360,618" stroke="#000" stroke-width="1.6"/><path d="M1353,629 L1356,613 L1366,622 Z" fill="#000"/>
<g clip-path="url(#cF3)"><g filter="url(#sf)">
<rect x="1452.5" y="504.5" width="295" height="232.5" fill="#CF98D8"/>
<line x1="1466" y1="600" x2="1500" y2="515" stroke="#E6B8E6" stroke-width="19" stroke-linecap="round"/>
<line x1="1466" y1="600" x2="1500" y2="515" stroke="#C383CC" stroke-width="15" stroke-linecap="round"/>
<line x1="1474.5" y1="578.75" x2="1491.5" y2="536.25" stroke="#F6E6F4" stroke-width="2" stroke-linecap="round"/>
<line x1="1490" y1="628" x2="1538" y2="535" stroke="#E6B8E6" stroke-width="18" stroke-linecap="round"/>
<line x1="1490" y1="628" x2="1538" y2="535" stroke="#C383CC" stroke-width="14" stroke-linecap="round"/>
<line x1="1502" y1="604.75" x2="1526" y2="558.25" stroke="#F6E6F4" stroke-width="2" stroke-linecap="round"/>
<line x1="1522" y1="640" x2="1572" y2="545" stroke="#E6B8E6" stroke-width="18" stroke-linecap="round"/>
<line x1="1522" y1="640" x2="1572" y2="545" stroke="#C383CC" stroke-width="14" stroke-linecap="round"/>
<line x1="1534.5" y1="616.25" x2="1559.5" y2="568.75" stroke="#F6E6F4" stroke-width="2" stroke-linecap="round"/>
<line x1="1552" y1="648" x2="1600" y2="565" stroke="#E6B8E6" stroke-width="17" stroke-linecap="round"/>
<line x1="1552" y1="648" x2="1600" y2="565" stroke="#C383CC" stroke-width="13" stroke-linecap="round"/>
<line x1="1564" y1="627.25" x2="1588" y2="585.75" stroke="#F6E6F4" stroke-width="2" stroke-linecap="round"/>
<line x1="1582" y1="655" x2="1640" y2="575" stroke="#E6B8E6" stroke-width="17" stroke-linecap="round"/>
<line x1="1582" y1="655" x2="1640" y2="575" stroke="#C383CC" stroke-width="13" stroke-linecap="round"/>
<line x1="1596.5" y1="635" x2="1625.5" y2="595" stroke="#F6E6F4" stroke-width="2" stroke-linecap="round"/>
<line x1="1600" y1="675" x2="1690" y2="605" stroke="#E6B8E6" stroke-width="17" stroke-linecap="round"/>
<line x1="1600" y1="675" x2="1690" y2="605" stroke="#C383CC" stroke-width="13" stroke-linecap="round"/>
<line x1="1622.5" y1="657.5" x2="1667.5" y2="622.5" stroke="#F6E6F4" stroke-width="2" stroke-linecap="round"/>
<line x1="1625" y1="700" x2="1720" y2="645" stroke="#E6B8E6" stroke-width="16" stroke-linecap="round"/>
<line x1="1625" y1="700" x2="1720" y2="645" stroke="#C383CC" stroke-width="12" stroke-linecap="round"/>
<line x1="1648.75" y1="686.25" x2="1696.25" y2="658.75" stroke="#F6E6F4" stroke-width="2" stroke-linecap="round"/>
<line x1="1600" y1="610" x2="1625" y2="550" stroke="#E6B8E6" stroke-width="15" stroke-linecap="round"/>
<line x1="1600" y1="610" x2="1625" y2="550" stroke="#C383CC" stroke-width="11" stroke-linecap="round"/>
<line x1="1606.25" y1="595" x2="1618.75" y2="565" stroke="#F6E6F4" stroke-width="2" stroke-linecap="round"/>
<path d="M1452.5,504.5 L1747.5,504.5 L1747.5,737 L1452.5,737 Z" fill="#000" filter="url(#tx4)" opacity="0.7"/>
<path d="M1452.5,504.5 L1747.5,504.5 L1747.5,737 L1452.5,737 Z" fill="#000" filter="url(#nuc)" opacity="0.8"/>
<path d="M1560,737 L1600,690 L1660,660 L1747,640 L1747,737 Z" fill="#000" filter="url(#tx4)" opacity="0.6"/>
<path d="M1585,504.5 L1747.5,504.5 L1747.5,627 L1729,618 L1724,602 L1716,588 L1695,576 L1675,571 L1662,556 L1636,547 L1612,535 L1602,525 Z" fill="#E8E6EA"/>
<path d="M1585,504.5 L1747.5,504.5 L1747.5,627 L1729,618 L1724,602 L1716,588 L1695,576 L1675,571 L1662,556 L1636,547 L1612,535 L1602,525 Z" fill="#000" filter="url(#tx3)" opacity="0.25"/>
<path d="M1452.5,644 L1480,668 L1510,700 L1535,737 L1452.5,737 Z" fill="#DFA6D3"/>
<path d="M1452.5,668 C1480,680 1500,700 1530,737" fill="none" stroke="#F2E6F0" stroke-width="3"/>
<path d="M1452.5,690 C1470,700 1490,715 1505,737" fill="none" stroke="#EEDDEB" stroke-width="2.5"/>
<path d="M1626,649 C1650,630 1675,615 1700,608" fill="none" stroke="#F4E8F2" stroke-width="3.5"/>
<path d="M1484,617 C1490,605 1498,597 1506,591" fill="none" stroke="#F2E4F0" stroke-width="2.5"/>
</g>
<path d="M1523,530 L1548,539 M1500,634 L1470,618 M1523,530 C1505,560 1485,590 1470,618 M1548,539 C1532,570 1515,605 1500,634" fill="none" stroke="#2A1A35" stroke-width="1.2" stroke-dasharray="2 1.3"/>
</g>
<line x1="1461" y1="727.2" x2="1546" y2="727.2" stroke="#333" stroke-width="1.6"/>
<text x="1503" y="722" font-size="13.2" text-anchor="middle" style="font-weight:normal" fill="#333">200 μm</text>
<path d="M1616.8,665 L1602,685" stroke="#000" stroke-width="1.6"/><path d="M1595.6,694.7 L1594.7,681.1 L1609.1,690.4 Z" fill="#000"/>
<text x="944.5" y="794" font-size="32.5" text-anchor="middle">Control</text>
<text x="1280" y="794" font-size="32.5" text-anchor="middle">DSS</text>
<text x="1606" y="789.5" font-size="32.5" text-anchor="middle">DSS + Cedrol</text>
<text x="11" y="1394" font-size="37" text-anchor="start">K</text>
<defs><filter id="bl" x="-30%" y="-80%" width="160%" height="260%"><feGaussianBlur stdDeviation="2.2 1.6"/></filter>
<linearGradient id="blotbg" x1="0" x2="0" y1="0" y2="1"><stop offset="0" stop-color="#E9E9E9"/><stop offset="1" stop-color="#DCDCDC"/></linearGradient></defs>
<defs><filter id="bl2" x="-20%" y="-80%" width="140%" height="260%"><feGaussianBlur stdDeviation="1.4 1.1"/></filter></defs>
<rect x="131" y="1425.5" width="190" height="29.4" fill="url(#blotbg)"/>
<rect x="142.8" y="1433.5" width="41.9" height="10.6" rx="6.1" fill="#0c0c0c" filter="url(#bl2)"/>
<rect x="202.4" y="1439.3" width="44.2" height="4.2" rx="2.9" fill="#8a8a8a" filter="url(#bl2)"/>
<rect x="264.2" y="1438.8" width="44.3" height="5.9" rx="3.75" fill="#1c1c1c" filter="url(#bl2)"/>
<rect x="130.5" y="1425.5" width="191" height="29.4" fill="none" stroke="#000" stroke-width="3"/>
<rect x="131" y="1471.2" width="190" height="33.5" fill="url(#blotbg)"/>
<rect x="140.5" y="1483.8" width="46.5" height="8.3" rx="4.95" fill="#080808" filter="url(#bl2)"/>
<rect x="201.2" y="1485.6" width="42.5" height="5.9" rx="3.75" fill="#222" filter="url(#bl2)"/>
<rect x="260.2" y="1485.6" width="46.6" height="7.6" rx="4.6" fill="#0c0c0c" filter="url(#bl2)"/>
<rect x="130.5" y="1471.2" width="191" height="33.5" fill="none" stroke="#000" stroke-width="3"/>
<rect x="131" y="1516.9" width="190" height="35.2" fill="url(#blotbg)"/>
<rect x="138.7" y="1531.8" width="46" height="6.6" rx="4.1" fill="#141414" filter="url(#bl2)"/>
<rect x="197.7" y="1533.6" width="44.9" height="6.5" rx="4.05" fill="#333" filter="url(#bl2)"/>
<rect x="256.7" y="1533.6" width="47.8" height="8.2" rx="4.9" fill="#0a0a0a" filter="url(#bl2)"/>
<rect x="130.5" y="1516.9" width="191" height="35.2" fill="none" stroke="#000" stroke-width="3"/>
<rect x="131" y="1565.5" width="190" height="37" fill="url(#blotbg)"/>
<rect x="136.4" y="1578.1" width="45.4" height="11.1" rx="6.35" fill="#050505" filter="url(#bl2)"/>
<rect x="195.4" y="1578.1" width="48.9" height="10.6" rx="6.1" fill="#050505" filter="url(#bl2)"/>
<rect x="260.2" y="1574.8" width="51.2" height="15.6" rx="8.6" fill="#000" filter="url(#bl2)"/>
<rect x="130.5" y="1565.5" width="191" height="37" fill="none" stroke="#000" stroke-width="3"/>
<ellipse cx="158" cy="1452" rx="18" ry="3.5" fill="#777" filter="url(#bl2)" opacity="0.6"/>
<text x="122.5" y="1446.5" font-size="19.5" text-anchor="end">Occludin</text>
<text x="341" y="1447" font-size="19.5" text-anchor="start">59 kDa</text>
<text x="122.5" y="1497" font-size="19.5" text-anchor="end">Claudin-1</text>
<text x="341" y="1497.5" font-size="19.5" text-anchor="start">22 kDa</text>
<text x="122.5" y="1544" font-size="19.5" text-anchor="end">Claudin-3</text>
<text x="341" y="1544.5" font-size="19.5" text-anchor="start">22 kDa</text>
<text x="122.5" y="1590.5" font-size="19.5" text-anchor="end">β-actin</text>
<text x="341" y="1591" font-size="19.5" text-anchor="start">43 kDa</text>
<text x="120" y="1630.5" font-size="19.5" text-anchor="end">DSS</text>
<text x="116.5" y="1662.5" font-size="19.5" text-anchor="end">Cedrol</text>
<text x="162.5" y="1632.5" font-size="25" text-anchor="middle" stroke="#111" stroke-width="0.9">-</text>
<text x="220" y="1632.5" font-size="21" text-anchor="middle">+</text>
<text x="282" y="1632.5" font-size="21" text-anchor="middle">+</text>
<text x="162.5" y="1663.5" font-size="25" text-anchor="middle" stroke="#111" stroke-width="0.9">-</text>
<text x="221" y="1663.5" font-size="25" text-anchor="middle" stroke="#111" stroke-width="0.9">-</text>
<text x="282" y="1663.5" font-size="21" text-anchor="middle">+</text>
<text x="480" y="1394" font-size="37" text-anchor="start">L</text>
<rect x="630.85" y="1454.8" width="34.5" height="198" fill="#5E72A3"/>
<rect x="682.85" y="1555.78" width="34.5" height="97.02" fill="#D9706A"/>
<line x1="700.1" y1="1555.78" x2="700.1" y2="1521.13" stroke="#D9706A" stroke-width="2"/>
<line x1="690.1" y1="1521.13" x2="710.1" y2="1521.13" stroke="#D9706A" stroke-width="2"/>
<rect x="734.85" y="1484.5" width="34.5" height="168.3" fill="#E3A55F"/>
<line x1="752.1" y1="1484.5" x2="752.1" y2="1431.04" stroke="#E3A55F" stroke-width="2"/>
<line x1="742.1" y1="1431.04" x2="762.1" y2="1431.04" stroke="#E3A55F" stroke-width="2"/>
<circle cx="637.5" cy="1454.8" r="4.6" fill="#000"/>
<circle cx="643" cy="1454.8" r="4.6" fill="#000"/>
<circle cx="649" cy="1454.8" r="4.6" fill="#000"/>
<circle cx="654.5" cy="1454.8" r="4.6" fill="#000"/>
<circle cx="660" cy="1454.8" r="4.6" fill="#000"/>
<circle cx="700.7" cy="1512.22" r="4.6" fill="#000"/>
<circle cx="700.7" cy="1544.89" r="4.6" fill="#000"/>
<circle cx="700.7" cy="1571.62" r="4.6" fill="#000"/>
<circle cx="700.7" cy="1591.42" r="4.6" fill="#000"/>
<circle cx="752.9" cy="1435" r="4.6" fill="#000"/>
<circle cx="744.1" cy="1466.68" r="4.6" fill="#000"/>
<circle cx="761.7" cy="1474.6" r="4.6" fill="#000"/>
<circle cx="752.9" cy="1561.72" r="4.6" fill="#000"/>
<rect x="822.15" y="1454.8" width="34.5" height="198" fill="#5E72A3"/>
<rect x="874.15" y="1507.27" width="34.5" height="145.53" fill="#D9706A"/>
<line x1="891.4" y1="1507.27" x2="891.4" y2="1488.46" stroke="#D9706A" stroke-width="2"/>
<line x1="881.4" y1="1488.46" x2="901.4" y2="1488.46" stroke="#D9706A" stroke-width="2"/>
<rect x="926.15" y="1471.63" width="34.5" height="181.17" fill="#E3A55F"/>
<line x1="943.4" y1="1471.63" x2="943.4" y2="1446.88" stroke="#E3A55F" stroke-width="2"/>
<line x1="933.4" y1="1446.88" x2="953.4" y2="1446.88" stroke="#E3A55F" stroke-width="2"/>
<circle cx="829" cy="1454.8" r="4.6" fill="#000"/>
<circle cx="834.5" cy="1454.8" r="4.6" fill="#000"/>
<circle cx="840" cy="1454.8" r="4.6" fill="#000"/>
<circle cx="845.5" cy="1454.8" r="4.6" fill="#000"/>
<circle cx="851" cy="1454.8" r="4.6" fill="#000"/>
<circle cx="892.3" cy="1482.52" r="4.6" fill="#000"/>
<circle cx="883.5" cy="1514.2" r="4.6" fill="#000"/>
<circle cx="892.3" cy="1508.26" r="4.6" fill="#000"/>
<circle cx="901" cy="1522.12" r="4.6" fill="#000"/>
<circle cx="935.4" cy="1444.9" r="4.6" fill="#000"/>
<circle cx="952.4" cy="1456.78" r="4.6" fill="#000"/>
<circle cx="935.4" cy="1484.5" r="4.6" fill="#000"/>
<circle cx="952.4" cy="1496.38" r="4.6" fill="#000"/>
<rect x="1013.35" y="1454.8" width="34.5" height="198" fill="#5E72A3"/>
<rect x="1065.35" y="1547.86" width="34.5" height="104.94" fill="#D9706A"/>
<line x1="1082.6" y1="1547.86" x2="1082.6" y2="1522.12" stroke="#D9706A" stroke-width="2"/>
<line x1="1072.6" y1="1522.12" x2="1092.6" y2="1522.12" stroke="#D9706A" stroke-width="2"/>
<rect x="1117.35" y="1501.33" width="34.5" height="151.47" fill="#E3A55F"/>
<line x1="1134.6" y1="1501.33" x2="1134.6" y2="1486.48" stroke="#E3A55F" stroke-width="2"/>
<line x1="1124.6" y1="1486.48" x2="1144.6" y2="1486.48" stroke="#E3A55F" stroke-width="2"/>
<circle cx="1019" cy="1454.8" r="4.6" fill="#000"/>
<circle cx="1025" cy="1454.8" r="4.6" fill="#000"/>
<circle cx="1030.5" cy="1454.8" r="4.6" fill="#000"/>
<circle cx="1036" cy="1454.8" r="4.6" fill="#000"/>
<circle cx="1042" cy="1454.8" r="4.6" fill="#000"/>
<circle cx="1082.9" cy="1516.18" r="4.6" fill="#000"/>
<circle cx="1074.2" cy="1543.9" r="4.6" fill="#000"/>
<circle cx="1091.6" cy="1547.86" r="4.6" fill="#000"/>
<circle cx="1082.9" cy="1581.52" r="4.6" fill="#000"/>
<circle cx="1123.4" cy="1486.48" r="4.6" fill="#000"/>
<circle cx="1135" cy="1494.4" r="4.6" fill="#000"/>
<circle cx="1147.5" cy="1502.32" r="4.6" fill="#000"/>
<circle cx="1135" cy="1520.14" r="4.6" fill="#000"/>
<line x1="614.4" y1="1414.2" x2="614.4" y2="1654.1" stroke="#111" stroke-width="2.6"/>
<line x1="604.9" y1="1652.8" x2="1171" y2="1652.8" stroke="#111" stroke-width="2.6"/>
<line x1="604.9" y1="1652.8" x2="614.4" y2="1652.8" stroke="#111" stroke-width="2.2"/>
<text x="601.8" y="1658.8" font-size="17.5" text-anchor="end">0.0</text>
<line x1="604.9" y1="1613.2" x2="614.4" y2="1613.2" stroke="#111" stroke-width="2.2"/>
<text x="601.8" y="1619.2" font-size="17.5" text-anchor="end">0.2</text>
<line x1="604.9" y1="1573.6" x2="614.4" y2="1573.6" stroke="#111" stroke-width="2.2"/>
<text x="601.8" y="1579.6" font-size="17.5" text-anchor="end">0.4</text>
<line x1="604.9" y1="1534" x2="614.4" y2="1534" stroke="#111" stroke-width="2.2"/>
<text x="601.8" y="1540" font-size="17.5" text-anchor="end">0.6</text>
<line x1="604.9" y1="1494.4" x2="614.4" y2="1494.4" stroke="#111" stroke-width="2.2"/>
<text x="601.8" y="1500.4" font-size="17.5" text-anchor="end">0.8</text>
<line x1="604.9" y1="1454.8" x2="614.4" y2="1454.8" stroke="#111" stroke-width="2.2"/>
<text x="601.8" y="1460.8" font-size="17.5" text-anchor="end">1.0</text>
<line x1="604.9" y1="1415.2" x2="614.4" y2="1415.2" stroke="#111" stroke-width="2.2"/>
<text x="601.8" y="1421.2" font-size="17.5" text-anchor="end">1.2</text>
<line x1="700.1" y1="1652.8" x2="700.1" y2="1662.8" stroke="#111" stroke-width="2.6"/>
<text x="699.6" y="1684" font-size="19.5" text-anchor="middle">Occludin</text>
<line x1="891.4" y1="1652.8" x2="891.4" y2="1662.8" stroke="#111" stroke-width="2.6"/>
<text x="890.9" y="1684" font-size="19.5" text-anchor="middle">Claudin-1</text>
<line x1="1082.6" y1="1652.8" x2="1082.6" y2="1662.8" stroke="#111" stroke-width="2.6"/>
<text x="1082.1" y="1684" font-size="19.5" text-anchor="middle">Claudin-3</text>
<text x="535" y="1533" font-size="22.8" text-anchor="middle" transform="rotate(-90 535 1533)" style="white-space:pre">Relative  protein expression</text>
<text x="563.5" y="1533" font-size="22.5" text-anchor="middle" transform="rotate(-90 563.5 1533)">(Normolized to β- actin)</text>
<rect x="1185" y="1397" width="23.5" height="12.5" fill="#5E72A3"/>
<text x="1222.5" y="1409.8" font-size="18" text-anchor="start">Control</text>
<rect x="1185" y="1428.3" width="23.5" height="12.5" fill="#D9706A"/>
<text x="1222.5" y="1441.1" font-size="18" text-anchor="start">DSS</text>
<rect x="1185" y="1459.3" width="23.5" height="12.5" fill="#E3A55F"/>
<text x="1222.5" y="1472.1" font-size="18" text-anchor="start">DSS + Cedrol</text>
</svg>
</body></html>
